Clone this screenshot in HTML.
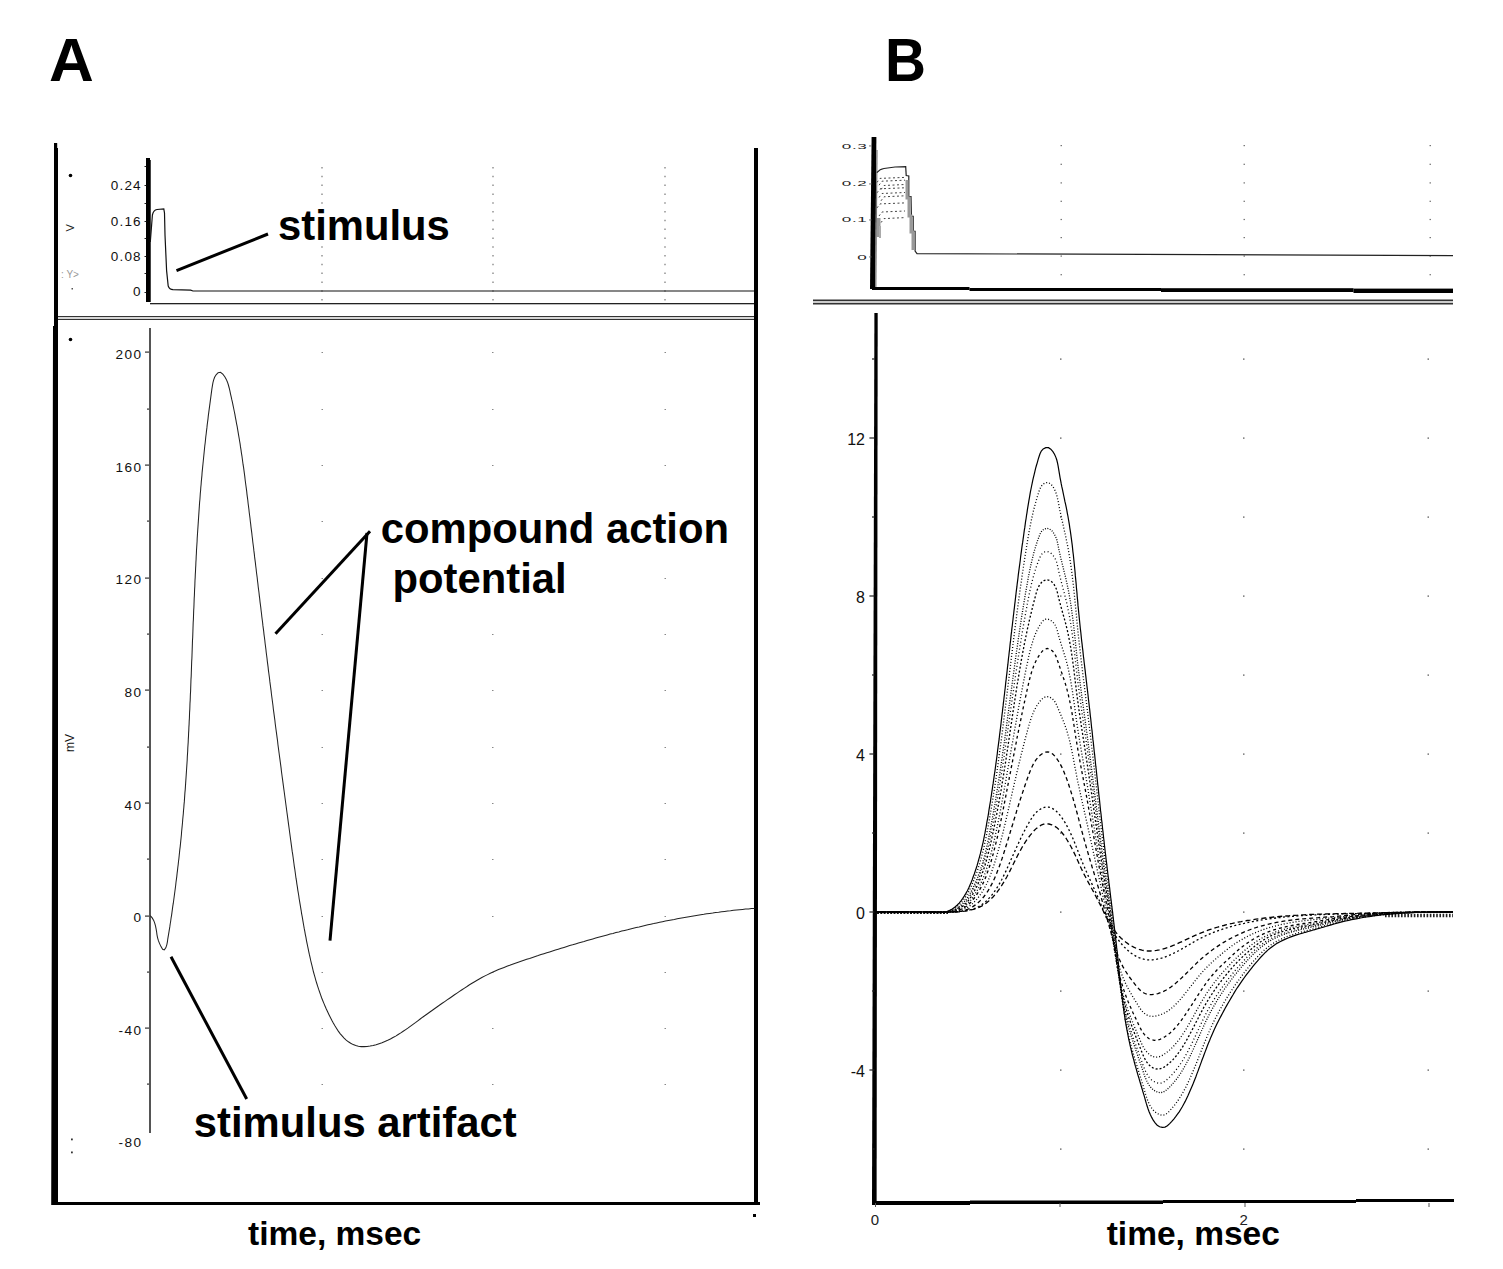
<!DOCTYPE html>
<html><head><meta charset="utf-8"><style>
html,body{margin:0;padding:0;background:#fff;}
body{width:1503px;height:1269px;overflow:hidden;}
svg{display:block;font-family:"Liberation Sans", sans-serif;}
</style></head><body>
<svg width="1503" height="1269" viewBox="0 0 1503 1269">
<rect width="1503" height="1269" fill="#fff"/>
<text x="49" y="80.7" font-size="62" font-weight="bold" fill="#000" >A</text>
<text x="0" y="0" font-size="62" font-weight="bold" transform="translate(885,80.8) scale(0.915,1)">B</text>
<polygon points="54,143 57.2,143 57.2,148 58,148 58,1205 51.2,1205 53,326 54,326" fill="#000"/>
<rect x="754" y="148" width="4" height="1057" fill="#000"/>
<rect x="53" y="1202" width="707" height="3" fill="#000"/>
<rect x="753" y="1214" width="3" height="3" fill="#000"/>
<rect x="146" y="158" width="4" height="144" fill="#000"/>
<rect x="150" y="160" width="1" height="142" fill="#444"/>
<rect x="144.5" y="166" width="1.8" height="1" fill="#222"/>
<rect x="144.5" y="185" width="1.8" height="1" fill="#222"/>
<rect x="144.5" y="203" width="1.8" height="1" fill="#222"/>
<rect x="144.5" y="221" width="1.8" height="1" fill="#222"/>
<rect x="144.5" y="238" width="1.8" height="1" fill="#222"/>
<rect x="144.5" y="256" width="1.8" height="1" fill="#222"/>
<rect x="144.5" y="273" width="1.8" height="1" fill="#222"/>
<rect x="144.5" y="292" width="1.8" height="1" fill="#222"/>
<rect x="150" y="303" width="604" height="1.3" fill="#222"/>
<line x1="322" y1="167" x2="322" y2="301" stroke="#777" stroke-width="1.2" stroke-dasharray="1.5 7.3"/>
<line x1="493" y1="167" x2="493" y2="301" stroke="#777" stroke-width="1.2" stroke-dasharray="1.5 7.3"/>
<line x1="665" y1="167" x2="665" y2="301" stroke="#777" stroke-width="1.2" stroke-dasharray="1.5 7.3"/>
<text x="141.8" y="190.1" font-size="13.5" text-anchor="end" letter-spacing="1.2" fill="#111">0.24</text>
<text x="141.8" y="226.1" font-size="13.5" text-anchor="end" letter-spacing="1.2" fill="#111">0.16</text>
<text x="141.8" y="261.1" font-size="13.5" text-anchor="end" letter-spacing="1.2" fill="#111">0.08</text>
<text x="141.8" y="296.1" font-size="13.5" text-anchor="end" letter-spacing="1.2" fill="#111">0</text>
<path d="M150.3,242 L152.4,215 Q153.5,210 157,209.5 L163.8,208.9 L164.5,213 L165,235 L166.6,270.6 L168.2,286 Q169.5,289.5 173,289.7 L190.7,290.2 L193,291 L754,291" fill="none" stroke="#111" stroke-width="1.2"/>
<rect x="58" y="316" width="696" height="1.2" fill="#333"/>
<rect x="58" y="318.8" width="696" height="1.2" fill="#333"/>
<circle cx="70.5" cy="175.5" r="1.8" fill="#000"/>
<text x="0" y="0" font-size="11" fill="#222" transform="translate(73.5,231.5) rotate(-90)">V</text>
<text x="0" y="0" font-size="10" fill="#999" transform="translate(61,278)">: Y&gt;</text>
<rect x="71.5" y="288" width="1.5" height="1.5" fill="#555"/>
<rect x="149" y="328" width="2" height="805" fill="#555"/>
<rect x="145" y="351.5" width="4" height="1.2" fill="#333"/>
<rect x="147" y="408.5" width="2" height="1.2" fill="#333"/>
<rect x="145" y="464.5" width="4" height="1.2" fill="#333"/>
<rect x="147" y="520.5" width="2" height="1.2" fill="#333"/>
<rect x="145" y="577.5" width="4" height="1.2" fill="#333"/>
<rect x="147" y="633.5" width="2" height="1.2" fill="#333"/>
<rect x="145" y="689.5" width="4" height="1.2" fill="#333"/>
<rect x="147" y="746.5" width="2" height="1.2" fill="#333"/>
<rect x="145" y="802.5" width="4" height="1.2" fill="#333"/>
<rect x="147" y="858.5" width="2" height="1.2" fill="#333"/>
<rect x="145" y="915.5" width="4" height="1.2" fill="#333"/>
<rect x="147" y="971.5" width="2" height="1.2" fill="#333"/>
<rect x="145" y="1027.5" width="4" height="1.2" fill="#333"/>
<rect x="147" y="1083.5" width="2" height="1.2" fill="#333"/>
<text x="142.6" y="359.2" font-size="13.6" text-anchor="end" letter-spacing="1.5" fill="#111">200</text>
<text x="142.6" y="471.8" font-size="13.6" text-anchor="end" letter-spacing="1.5" fill="#111">160</text>
<text x="142.6" y="584.4" font-size="13.6" text-anchor="end" letter-spacing="1.5" fill="#111">120</text>
<text x="142.6" y="697.0" font-size="13.6" text-anchor="end" letter-spacing="1.5" fill="#111">80</text>
<text x="142.6" y="809.6" font-size="13.6" text-anchor="end" letter-spacing="1.5" fill="#111">40</text>
<text x="142.6" y="922.2" font-size="13.6" text-anchor="end" letter-spacing="1.5" fill="#111">0</text>
<text x="142.6" y="1034.8" font-size="13.6" text-anchor="end" letter-spacing="1.5" fill="#111">-40</text>
<text x="142.6" y="1147.4" font-size="13.6" text-anchor="end" letter-spacing="1.5" fill="#111">-80</text>
<rect x="321.5" y="352" width="1.5" height="1" fill="#888"/>
<rect x="321.5" y="409" width="1.5" height="1" fill="#888"/>
<rect x="321.5" y="465" width="1.5" height="1" fill="#888"/>
<rect x="321.5" y="521" width="1.5" height="1" fill="#888"/>
<rect x="321.5" y="578" width="1.5" height="1" fill="#888"/>
<rect x="321.5" y="634" width="1.5" height="1" fill="#888"/>
<rect x="321.5" y="690" width="1.5" height="1" fill="#888"/>
<rect x="321.5" y="747" width="1.5" height="1" fill="#888"/>
<rect x="321.5" y="803" width="1.5" height="1" fill="#888"/>
<rect x="321.5" y="859" width="1.5" height="1" fill="#888"/>
<rect x="321.5" y="916" width="1.5" height="1" fill="#888"/>
<rect x="321.5" y="972" width="1.5" height="1" fill="#888"/>
<rect x="321.5" y="1028" width="1.5" height="1" fill="#888"/>
<rect x="321.5" y="1084" width="1.5" height="1" fill="#888"/>
<rect x="492.0" y="352" width="1.5" height="1" fill="#888"/>
<rect x="492.0" y="409" width="1.5" height="1" fill="#888"/>
<rect x="492.0" y="465" width="1.5" height="1" fill="#888"/>
<rect x="492.0" y="521" width="1.5" height="1" fill="#888"/>
<rect x="492.0" y="578" width="1.5" height="1" fill="#888"/>
<rect x="492.0" y="634" width="1.5" height="1" fill="#888"/>
<rect x="492.0" y="690" width="1.5" height="1" fill="#888"/>
<rect x="492.0" y="747" width="1.5" height="1" fill="#888"/>
<rect x="492.0" y="803" width="1.5" height="1" fill="#888"/>
<rect x="492.0" y="859" width="1.5" height="1" fill="#888"/>
<rect x="492.0" y="916" width="1.5" height="1" fill="#888"/>
<rect x="492.0" y="972" width="1.5" height="1" fill="#888"/>
<rect x="492.0" y="1028" width="1.5" height="1" fill="#888"/>
<rect x="492.0" y="1084" width="1.5" height="1" fill="#888"/>
<rect x="664.5" y="352" width="1.5" height="1" fill="#888"/>
<rect x="664.5" y="409" width="1.5" height="1" fill="#888"/>
<rect x="664.5" y="465" width="1.5" height="1" fill="#888"/>
<rect x="664.5" y="521" width="1.5" height="1" fill="#888"/>
<rect x="664.5" y="578" width="1.5" height="1" fill="#888"/>
<rect x="664.5" y="634" width="1.5" height="1" fill="#888"/>
<rect x="664.5" y="690" width="1.5" height="1" fill="#888"/>
<rect x="664.5" y="747" width="1.5" height="1" fill="#888"/>
<rect x="664.5" y="803" width="1.5" height="1" fill="#888"/>
<rect x="664.5" y="859" width="1.5" height="1" fill="#888"/>
<rect x="664.5" y="916" width="1.5" height="1" fill="#888"/>
<rect x="664.5" y="972" width="1.5" height="1" fill="#888"/>
<rect x="664.5" y="1028" width="1.5" height="1" fill="#888"/>
<rect x="664.5" y="1084" width="1.5" height="1" fill="#888"/>
<circle cx="70.5" cy="339.5" r="1.8" fill="#000"/>
<text x="0" y="0" font-size="12" fill="#111" transform="translate(73.5,752) rotate(-90)">mV</text>
<rect x="71" y="1138.5" width="1.8" height="1.8" fill="#333"/>
<rect x="71" y="1151.5" width="1.8" height="1.8" fill="#333"/>
<path d="M150.2,915.6 L152.2,917.9 L153.7,920.4 L154.7,923.1 L155.5,925.9 L156.1,928.8 L156.6,931.8 L157.0,934.8 L157.6,937.8 L158.4,940.7 L159.6,943.6 L161.0,946.6 L162.6,949.3 L164.3,949.9 L165.8,947.8 L166.8,944.8 L167.4,941.8 L167.8,938.8 L168.3,935.9 L168.8,932.9 L169.3,929.9 L169.8,926.9 L170.2,924.0 L170.7,921.0 L171.1,918.0 L171.6,915.1 L172.0,912.1 L172.4,909.1 L172.8,906.1 L173.3,903.2 L173.7,900.2 L174.1,897.2 L174.5,894.2 L174.9,891.3 L175.3,888.3 L175.7,885.3 L176.0,882.3 L176.4,879.4 L176.8,876.4 L177.1,873.4 L177.5,870.4 L177.8,867.5 L178.2,864.5 L178.5,861.5 L178.9,858.5 L179.2,855.5 L179.5,852.6 L179.8,849.6 L180.2,846.6 L180.5,843.6 L180.8,840.6 L181.1,837.7 L181.4,834.7 L181.6,831.7 L181.9,828.7 L182.2,825.7 L182.5,822.8 L182.7,819.8 L183.0,816.8 L183.3,813.8 L183.5,810.8 L183.8,807.8 L184.0,804.9 L184.3,801.9 L184.5,798.9 L184.7,795.9 L184.9,792.9 L185.2,789.9 L185.4,786.9 L185.6,783.9 L185.8,780.9 L186.0,778.0 L186.2,775.0 L186.4,772.0 L186.6,769.0 L186.8,766.0 L187.0,763.0 L187.2,760.0 L187.3,757.0 L187.5,754.0 L187.7,751.0 L187.8,748.0 L188.0,745.0 L188.2,742.1 L188.3,739.1 L188.5,736.1 L188.6,733.1 L188.8,730.1 L188.9,727.1 L189.1,724.1 L189.2,721.1 L189.4,718.1 L189.5,715.1 L189.6,712.1 L189.8,709.1 L189.9,706.1 L190.0,703.1 L190.2,700.1 L190.3,697.1 L190.4,694.1 L190.6,691.1 L190.7,688.1 L190.8,685.1 L190.9,682.1 L191.0,679.1 L191.2,676.1 L191.3,673.1 L191.4,670.1 L191.5,667.1 L191.6,664.1 L191.7,661.1 L191.9,658.2 L192.0,655.2 L192.1,652.2 L192.2,649.2 L192.3,646.2 L192.4,643.2 L192.5,640.2 L192.7,637.2 L192.8,634.2 L192.9,631.2 L193.0,628.2 L193.1,625.2 L193.2,622.2 L193.4,619.2 L193.5,616.2 L193.6,613.2 L193.7,610.2 L193.9,607.2 L194.0,604.2 L194.1,601.2 L194.2,598.2 L194.4,595.2 L194.5,592.2 L194.6,589.2 L194.8,586.2 L194.9,583.2 L195.0,580.2 L195.2,577.2 L195.3,574.2 L195.5,571.2 L195.6,568.2 L195.8,565.2 L195.9,562.3 L196.1,559.3 L196.2,556.3 L196.4,553.3 L196.5,550.3 L196.7,547.3 L196.9,544.3 L197.1,541.3 L197.2,538.3 L197.4,535.3 L197.6,532.3 L197.8,529.3 L198.0,526.4 L198.2,523.4 L198.4,520.4 L198.6,517.4 L198.8,514.4 L199.0,511.4 L199.2,508.4 L199.4,505.4 L199.6,502.4 L199.9,499.5 L200.1,496.5 L200.3,493.5 L200.6,490.5 L200.8,487.5 L201.1,484.5 L201.3,481.6 L201.6,478.6 L201.9,475.6 L202.1,472.6 L202.4,469.6 L202.7,466.6 L203.0,463.7 L203.3,460.7 L203.6,457.7 L203.9,454.7 L204.2,451.7 L204.5,448.8 L204.8,445.8 L205.2,442.8 L205.5,439.8 L205.8,436.8 L206.2,433.8 L206.5,430.9 L206.9,427.9 L207.2,424.9 L207.6,421.9 L208.0,418.9 L208.3,415.9 L208.7,412.9 L209.1,409.9 L209.5,406.9 L209.9,403.9 L210.3,400.9 L210.7,397.9 L211.1,394.9 L211.5,391.9 L211.9,388.9 L212.4,385.9 L212.9,382.9 L213.6,380.1 L214.6,377.3 L216.1,374.8 L218.1,372.7 L220.5,372.3 L222.8,374.2 L224.8,376.7 L226.3,379.4 L227.5,382.2 L228.4,385.0 L229.2,388.0 L229.9,390.9 L230.5,393.8 L231.2,396.8 L231.8,399.7 L232.5,402.6 L233.1,405.6 L233.7,408.5 L234.3,411.5 L234.9,414.4 L235.4,417.4 L236.0,420.3 L236.5,423.3 L237.1,426.2 L237.6,429.2 L238.1,432.1 L238.6,435.1 L239.1,438.0 L239.6,441.0 L240.1,443.9 L240.5,446.9 L241.0,449.9 L241.4,452.8 L241.9,455.8 L242.3,458.8 L242.7,461.7 L243.1,464.7 L243.6,467.6 L244.0,470.6 L244.4,473.6 L244.8,476.6 L245.1,479.5 L245.5,482.5 L245.9,485.5 L246.3,488.4 L246.7,491.4 L247.0,494.4 L247.4,497.4 L247.8,500.3 L248.1,503.3 L248.5,506.3 L248.9,509.3 L249.2,512.2 L249.6,515.2 L250.0,518.2 L250.3,521.2 L250.7,524.1 L251.0,527.1 L251.4,530.1 L251.8,533.1 L252.1,536.0 L252.5,539.0 L252.8,542.0 L253.2,545.0 L253.6,548.0 L253.9,550.9 L254.3,553.9 L254.6,556.9 L255.0,559.9 L255.4,562.9 L255.7,565.8 L256.1,568.8 L256.4,571.8 L256.8,574.8 L257.2,577.8 L257.5,580.7 L257.9,583.7 L258.2,586.7 L258.6,589.7 L259.0,592.7 L259.3,595.6 L259.7,598.6 L260.0,601.6 L260.4,604.6 L260.8,607.6 L261.1,610.5 L261.5,613.5 L261.8,616.5 L262.2,619.5 L262.6,622.5 L262.9,625.4 L263.3,628.4 L263.7,631.4 L264.0,634.4 L264.4,637.3 L264.8,640.3 L265.1,643.3 L265.5,646.3 L265.9,649.2 L266.2,652.2 L266.6,655.2 L267.0,658.2 L267.3,661.1 L267.7,664.1 L268.1,667.1 L268.4,670.1 L268.8,673.0 L269.2,676.0 L269.6,679.0 L269.9,681.9 L270.3,684.9 L270.7,687.9 L271.1,690.9 L271.4,693.8 L271.8,696.8 L272.2,699.8 L272.6,702.7 L273.0,705.7 L273.3,708.7 L273.7,711.6 L274.1,714.6 L274.5,717.6 L274.9,720.5 L275.2,723.5 L275.6,726.5 L276.0,729.5 L276.4,732.4 L276.8,735.4 L277.2,738.4 L277.6,741.3 L277.9,744.3 L278.3,747.3 L278.7,750.2 L279.1,753.2 L279.5,756.2 L279.9,759.1 L280.3,762.1 L280.7,765.1 L281.1,768.1 L281.4,771.0 L281.8,774.0 L282.2,777.0 L282.6,779.9 L283.0,782.9 L283.4,785.9 L283.8,788.9 L284.2,791.8 L284.6,794.8 L285.0,797.8 L285.4,800.8 L285.8,803.7 L286.2,806.7 L286.6,809.7 L287.0,812.7 L287.4,815.6 L287.8,818.6 L288.2,821.6 L288.6,824.6 L289.0,827.5 L289.4,830.5 L289.8,833.5 L290.2,836.5 L290.6,839.5 L291.0,842.4 L291.4,845.4 L291.8,848.4 L292.2,851.4 L292.7,854.4 L293.1,857.3 L293.5,860.3 L293.9,863.3 L294.3,866.3 L294.8,869.3 L295.2,872.2 L295.6,875.2 L296.0,878.2 L296.5,881.1 L296.9,884.1 L297.4,887.1 L297.8,890.1 L298.3,893.0 L298.8,896.0 L299.2,899.0 L299.7,901.9 L300.2,904.9 L300.7,907.8 L301.2,910.8 L301.6,913.7 L302.2,916.7 L302.7,919.6 L303.2,922.6 L303.7,925.5 L304.2,928.4 L304.8,931.4 L305.3,934.3 L305.9,937.2 L306.4,940.1 L307.0,943.1 L307.6,946.0 L308.2,948.9 L308.8,951.8 L309.4,954.7 L310.1,957.6 L310.7,960.5 L311.4,963.4 L312.1,966.2 L312.8,969.1 L313.5,972.0 L314.3,974.9 L315.1,977.7 L315.9,980.6 L316.8,983.5 L317.7,986.3 L318.6,989.2 L319.6,992.0 L320.6,994.9 L321.6,997.7 L322.7,1000.5 L323.9,1003.4 L325.1,1006.2 L326.3,1009.0 L327.6,1011.8 L329.0,1014.7 L330.4,1017.5 L331.8,1020.3 L333.3,1023.1 L334.9,1025.8 L336.6,1028.5 L338.3,1031.1 L340.1,1033.6 L342.1,1035.9 L344.1,1038.1 L346.2,1040.1 L348.4,1041.8 L350.7,1043.3 L353.2,1044.6 L355.7,1045.6 L358.4,1046.2 L361.2,1046.6 L364.1,1046.6 L367.1,1046.5 L370.1,1046.0 L373.1,1045.4 L376.1,1044.7 L379.1,1043.7 L382.0,1042.7 L384.9,1041.5 L387.7,1040.3 L390.4,1039.0 L393.0,1037.5 L395.7,1036.1 L398.2,1034.5 L400.8,1032.9 L403.2,1031.3 L405.7,1029.6 L408.2,1027.9 L410.6,1026.1 L413.0,1024.3 L415.4,1022.6 L417.8,1020.8 L420.2,1019.0 L422.6,1017.2 L425.0,1015.5 L427.5,1013.7 L429.9,1012.0 L432.4,1010.2 L434.8,1008.5 L437.3,1006.7 L439.7,1005.0 L442.2,1003.3 L444.7,1001.6 L447.1,999.9 L449.6,998.2 L452.1,996.5 L454.5,994.8 L457.0,993.1 L459.5,991.4 L462.0,989.7 L464.5,988.1 L467.0,986.5 L469.5,984.8 L472.0,983.3 L474.6,981.7 L477.1,980.2 L479.7,978.7 L482.3,977.3 L485.0,975.9 L487.6,974.6 L490.3,973.3 L493.0,972.0 L495.8,970.8 L498.5,969.6 L501.3,968.5 L504.1,967.4 L506.9,966.3 L509.7,965.3 L512.5,964.2 L515.3,963.2 L518.2,962.2 L521.0,961.3 L523.9,960.3 L526.7,959.3 L529.6,958.4 L532.5,957.4 L535.3,956.5 L538.2,955.6 L541.0,954.6 L543.9,953.7 L546.8,952.8 L549.6,951.9 L552.5,951.0 L555.4,950.1 L558.2,949.2 L561.1,948.3 L564.0,947.4 L566.9,946.5 L569.7,945.6 L572.6,944.8 L575.5,943.9 L578.4,943.0 L581.2,942.2 L584.1,941.4 L587.0,940.5 L589.9,939.7 L592.8,938.9 L595.7,938.1 L598.5,937.3 L601.4,936.5 L604.3,935.7 L607.2,934.9 L610.1,934.1 L613.0,933.4 L615.9,932.6 L618.8,931.9 L621.7,931.1 L624.6,930.4 L627.5,929.7 L630.4,928.9 L633.3,928.2 L636.2,927.5 L639.1,926.9 L642.1,926.2 L645.0,925.5 L647.9,924.8 L650.8,924.2 L653.7,923.6 L656.7,922.9 L659.6,922.3 L662.5,921.7 L665.4,921.1 L668.4,920.5 L671.3,919.9 L674.3,919.4 L677.2,918.8 L680.1,918.2 L683.1,917.7 L686.0,917.2 L689.0,916.7 L691.9,916.2 L694.9,915.7 L697.8,915.2 L700.8,914.7 L703.8,914.3 L706.7,913.8 L709.7,913.4 L712.7,913.0 L715.6,912.5 L718.6,912.2 L721.6,911.8 L724.6,911.4 L727.6,911.0 L730.5,910.7 L733.5,910.3 L736.5,910.0 L739.5,909.7 L742.5,909.4 L745.5,909.1 L748.5,908.9 L751.5,908.6 L754.5,908.4" fill="none" stroke="#222" stroke-width="1.05"/>
<g stroke="#000" stroke-width="3" stroke-linecap="butt" fill="none">
<line x1="176.5" y1="270.6" x2="268" y2="234"/>
<line x1="275.5" y1="633.8" x2="370" y2="531.3"/>
<line x1="367" y1="533" x2="330" y2="940.6"/>
<line x1="171" y1="956.8" x2="246.7" y2="1099"/>
</g>
<text x="278" y="240" font-size="41.8" font-weight="bold" fill="#000" >stimulus</text>
<text x="380.7" y="543" font-size="41.8" font-weight="bold" fill="#000" >compound action</text>
<text x="392.5" y="593" font-size="41.8" font-weight="bold" fill="#000" >potential</text>
<text x="193.8" y="1136.6" font-size="41.8" font-weight="bold" fill="#000" >stimulus artifact</text>
<text x="248" y="1245" font-size="33.5" font-weight="bold" fill="#000" >time, msec</text>
<polygon points="871.6,137 876.4,137 875.2,289 870,289" fill="#000"/>
<polygon points="876.4,150 877.6,150 876.4,289 875.2,289" fill="#777"/>
<rect x="872" y="287" width="97.5" height="3" fill="#000"/>
<rect x="969.5" y="288" width="191.5" height="3" fill="#000"/>
<rect x="1161" y="288.2" width="192.5" height="3.8" fill="#000"/>
<rect x="1353.5" y="288.6" width="99.5" height="4.4" fill="#000"/>
<text x="0" y="0" font-size="9" text-anchor="end" fill="#222" transform="translate(867.3,148.9) scale(1.9,0.75)" letter-spacing="0.3">0.3</text>
<rect x="869" y="145.5" width="2.5" height="0.9" fill="#666"/>
<text x="0" y="0" font-size="9" text-anchor="end" fill="#222" transform="translate(867.3,186.2) scale(1.9,0.75)" letter-spacing="0.3">0.2</text>
<rect x="869" y="183.5" width="2.5" height="0.9" fill="#666"/>
<text x="0" y="0" font-size="9" text-anchor="end" fill="#222" transform="translate(867.3,222.29999999999998) scale(1.9,0.75)" letter-spacing="0.3">0.1</text>
<rect x="869" y="219.5" width="2.5" height="0.9" fill="#666"/>
<text x="0" y="0" font-size="9" text-anchor="end" fill="#222" transform="translate(867.3,259.6) scale(1.9,0.75)" letter-spacing="0.3">0</text>
<rect x="869" y="256.5" width="2.5" height="0.9" fill="#666"/>
<rect x="1060.5" y="145.0" width="1.5" height="1.2" fill="#777"/>
<rect x="1060.5" y="163.7" width="1.5" height="1.2" fill="#777"/>
<rect x="1060.5" y="182.3" width="1.5" height="1.2" fill="#777"/>
<rect x="1060.5" y="200.7" width="1.5" height="1.2" fill="#777"/>
<rect x="1060.5" y="218.9" width="1.5" height="1.2" fill="#777"/>
<rect x="1060.5" y="237.0" width="1.5" height="1.2" fill="#777"/>
<rect x="1060.5" y="255.5" width="1.5" height="1.2" fill="#777"/>
<rect x="1060.5" y="274.1" width="1.5" height="1.2" fill="#777"/>
<rect x="1243.5" y="145.0" width="1.5" height="1.2" fill="#777"/>
<rect x="1243.5" y="163.7" width="1.5" height="1.2" fill="#777"/>
<rect x="1243.5" y="182.3" width="1.5" height="1.2" fill="#777"/>
<rect x="1243.5" y="200.7" width="1.5" height="1.2" fill="#777"/>
<rect x="1243.5" y="218.9" width="1.5" height="1.2" fill="#777"/>
<rect x="1243.5" y="237.0" width="1.5" height="1.2" fill="#777"/>
<rect x="1243.5" y="255.5" width="1.5" height="1.2" fill="#777"/>
<rect x="1243.5" y="274.1" width="1.5" height="1.2" fill="#777"/>
<rect x="1429.5" y="145.0" width="1.5" height="1.2" fill="#777"/>
<rect x="1429.5" y="163.7" width="1.5" height="1.2" fill="#777"/>
<rect x="1429.5" y="182.3" width="1.5" height="1.2" fill="#777"/>
<rect x="1429.5" y="200.7" width="1.5" height="1.2" fill="#777"/>
<rect x="1429.5" y="218.9" width="1.5" height="1.2" fill="#777"/>
<rect x="1429.5" y="237.0" width="1.5" height="1.2" fill="#777"/>
<rect x="1429.5" y="255.5" width="1.5" height="1.2" fill="#777"/>
<rect x="1429.5" y="274.1" width="1.5" height="1.2" fill="#777"/>
<path d="M876.8,172.7 Q880,169 884,168.5 L895,167 L905.7,166.6 L906.2,175.5 L908.8,176 L908.8,196.4 L911,196.6 L911.4,216 L913.2,216.3 L913.2,231 L915.1,231.3 L915.1,251 L917,253.6 L1453,255.6" fill="none" stroke="#222" stroke-width="1.2"/>
<path d="M877,182.4 L880,178.4 L905,177.4" fill="none" stroke="#444" stroke-width="1" stroke-dasharray="2 2.5"/>
<path d="M879,185.2 L882,181.2 L905,180.2" fill="none" stroke="#444" stroke-width="1" stroke-dasharray="2 2.5"/>
<path d="M881,189.5 L884,185.5 L905,184.5" fill="none" stroke="#444" stroke-width="1" stroke-dasharray="2 2.5"/>
<path d="M877,192.8 L880,188.8 L905,187.8" fill="none" stroke="#444" stroke-width="1" stroke-dasharray="2 2.5"/>
<path d="M879,197.5 L882,193.5 L905,192.5" fill="none" stroke="#444" stroke-width="1" stroke-dasharray="2 2.5"/>
<path d="M881,200.8 L884,196.8 L905,195.8" fill="none" stroke="#444" stroke-width="1" stroke-dasharray="2 2.5"/>
<path d="M877,207.9 L880,203.9 L905,202.9" fill="none" stroke="#444" stroke-width="1" stroke-dasharray="2 2.5"/>
<path d="M879,216 L882,212 L905,211" fill="none" stroke="#444" stroke-width="1" stroke-dasharray="2 2.5"/>
<path d="M881,222.6 L884,218.6 L905,217.6" fill="none" stroke="#444" stroke-width="1" stroke-dasharray="2 2.5"/>
<path d="M907,180 L907,198 L909,198 L909,216 L911,216 L911,232 L913,232 L913,250" fill="none" stroke="#999" stroke-width="3"/>
<rect x="877" y="218" width="3.5" height="19" fill="#999"/>
<rect x="879" y="226" width="2" height="12" fill="#aaa"/>
<rect x="813" y="299.5" width="640" height="1.5" fill="#333"/>
<rect x="813" y="301" width="640" height="2" fill="#ccc"/>
<rect x="813" y="303" width="640" height="1.5" fill="#333"/>
<polygon points="874.4,313 877.7,313 876.6,1204.5 872,1204.5" fill="#000"/>
<rect x="872" y="1201" width="98" height="4" fill="#000"/>
<rect x="970" y="1200.5" width="193" height="3.5" fill="#000"/>
<rect x="1163" y="1200" width="193" height="3" fill="#000"/>
<rect x="1356" y="1199" width="98" height="3" fill="#000"/>
<rect x="872" y="1148.4" width="2.5" height="1.2" fill="#222"/>
<rect x="869.4" y="1069.4" width="5" height="1.2" fill="#222"/>
<rect x="872" y="990.4" width="2.5" height="1.2" fill="#222"/>
<rect x="869.4" y="911.4" width="5" height="1.2" fill="#222"/>
<rect x="872" y="832.4" width="2.5" height="1.2" fill="#222"/>
<rect x="869.4" y="753.4" width="5" height="1.2" fill="#222"/>
<rect x="872" y="674.4" width="2.5" height="1.2" fill="#222"/>
<rect x="869.4" y="595.4" width="5" height="1.2" fill="#222"/>
<rect x="872" y="516.4" width="2.5" height="1.2" fill="#222"/>
<rect x="869.4" y="437.4" width="5" height="1.2" fill="#222"/>
<rect x="872" y="358.4" width="2.5" height="1.2" fill="#222"/>
<text x="865" y="444.8" font-size="16" text-anchor="end" fill="#111">12</text>
<text x="865" y="602.8" font-size="16" text-anchor="end" fill="#111">8</text>
<text x="865" y="760.8" font-size="16" text-anchor="end" fill="#111">4</text>
<text x="865" y="918.8" font-size="16" text-anchor="end" fill="#111">0</text>
<text x="865" y="1076.8" font-size="16" text-anchor="end" fill="#111">-4</text>
<rect x="1060.0" y="1148.5" width="1.5" height="1.2" fill="#555"/>
<rect x="1060.0" y="1069.5" width="1.5" height="1.2" fill="#555"/>
<rect x="1060.0" y="990.5" width="1.5" height="1.2" fill="#555"/>
<rect x="1060.0" y="911.5" width="1.5" height="1.2" fill="#555"/>
<rect x="1060.0" y="832.5" width="1.5" height="1.2" fill="#555"/>
<rect x="1060.0" y="753.5" width="1.5" height="1.2" fill="#555"/>
<rect x="1060.0" y="674.5" width="1.5" height="1.2" fill="#555"/>
<rect x="1060.0" y="595.5" width="1.5" height="1.2" fill="#555"/>
<rect x="1060.0" y="516.5" width="1.5" height="1.2" fill="#555"/>
<rect x="1060.0" y="437.5" width="1.5" height="1.2" fill="#555"/>
<rect x="1060.0" y="358.5" width="1.5" height="1.2" fill="#555"/>
<rect x="1243.0" y="1148.5" width="1.5" height="1.2" fill="#555"/>
<rect x="1243.0" y="1069.5" width="1.5" height="1.2" fill="#555"/>
<rect x="1243.0" y="990.5" width="1.5" height="1.2" fill="#555"/>
<rect x="1243.0" y="911.5" width="1.5" height="1.2" fill="#555"/>
<rect x="1243.0" y="832.5" width="1.5" height="1.2" fill="#555"/>
<rect x="1243.0" y="753.5" width="1.5" height="1.2" fill="#555"/>
<rect x="1243.0" y="674.5" width="1.5" height="1.2" fill="#555"/>
<rect x="1243.0" y="595.5" width="1.5" height="1.2" fill="#555"/>
<rect x="1243.0" y="516.5" width="1.5" height="1.2" fill="#555"/>
<rect x="1243.0" y="437.5" width="1.5" height="1.2" fill="#555"/>
<rect x="1243.0" y="358.5" width="1.5" height="1.2" fill="#555"/>
<rect x="1427.5" y="1148.5" width="1.5" height="1.2" fill="#555"/>
<rect x="1427.5" y="1069.5" width="1.5" height="1.2" fill="#555"/>
<rect x="1427.5" y="990.5" width="1.5" height="1.2" fill="#555"/>
<rect x="1427.5" y="911.5" width="1.5" height="1.2" fill="#555"/>
<rect x="1427.5" y="832.5" width="1.5" height="1.2" fill="#555"/>
<rect x="1427.5" y="753.5" width="1.5" height="1.2" fill="#555"/>
<rect x="1427.5" y="674.5" width="1.5" height="1.2" fill="#555"/>
<rect x="1427.5" y="595.5" width="1.5" height="1.2" fill="#555"/>
<rect x="1427.5" y="516.5" width="1.5" height="1.2" fill="#555"/>
<rect x="1427.5" y="437.5" width="1.5" height="1.2" fill="#555"/>
<rect x="1427.5" y="358.5" width="1.5" height="1.2" fill="#555"/>
<rect x="875.0" y="1203" width="1" height="4" fill="#555"/>
<rect x="1059.5" y="1203" width="1" height="4" fill="#555"/>
<rect x="1244.5" y="1203" width="1" height="4" fill="#555"/>
<rect x="1428.5" y="1203" width="1" height="4" fill="#555"/>
<line x1="877" y1="912.4" x2="948" y2="912.4" stroke="#111" stroke-width="3" stroke-dasharray="2 1.3"/>
<line x1="1385" y1="915.5" x2="1453" y2="915.5" stroke="#222" stroke-width="3.5" stroke-dasharray="1.6 1.6"/>
<text x="870.8" y="1225" font-size="15" font-weight="normal" fill="#222" >0</text>
<text x="1239.5" y="1225" font-size="15" font-weight="normal" fill="#222" >2</text>
<text x="1106.7" y="1245" font-size="33.5" font-weight="bold" fill="#000" >time, msec</text>
<path d="M875.0,912.0 L878.0,912.0 L881.0,912.0 L884.0,912.0 L887.0,912.0 L890.0,912.0 L893.0,912.0 L896.0,912.0 L899.0,912.0 L902.0,912.0 L905.0,912.0 L908.0,912.0 L911.0,912.0 L914.0,912.0 L917.0,912.0 L920.0,912.0 L922.9,911.9 L925.9,911.9 L928.9,911.9 L931.9,911.9 L934.9,912.0 L938.0,912.2 L941.1,912.3 L944.1,912.2 L946.9,911.5 L949.7,910.4 L952.3,909.0 L954.7,907.2 L957.0,905.2 L959.1,903.1 L961.0,900.8 L962.8,898.4 L964.4,895.9 L965.9,893.4 L967.4,890.7 L968.7,888.0 L969.9,885.3 L971.1,882.5 L972.2,879.7 L973.2,876.8 L974.3,874.0 L975.2,871.2 L976.2,868.3 L977.1,865.5 L977.9,862.6 L978.7,859.7 L979.5,856.8 L980.3,853.9 L981.0,851.0 L981.7,848.1 L982.4,845.2 L983.1,842.3 L983.7,839.3 L984.3,836.4 L984.9,833.5 L985.4,830.5 L986.0,827.6 L986.5,824.6 L987.0,821.7 L987.6,818.7 L988.1,815.8 L988.6,812.8 L989.0,809.9 L989.5,806.9 L990.0,803.9 L990.5,801.0 L990.9,798.0 L991.4,795.1 L991.8,792.1 L992.3,789.1 L992.7,786.2 L993.2,783.2 L993.6,780.2 L994.0,777.3 L994.4,774.3 L994.9,771.3 L995.3,768.4 L995.7,765.4 L996.1,762.4 L996.5,759.5 L996.9,756.5 L997.3,753.5 L997.6,750.5 L998.0,747.6 L998.4,744.6 L998.8,741.6 L999.2,738.7 L999.5,735.7 L999.9,732.7 L1000.3,729.7 L1000.6,726.8 L1001.0,723.8 L1001.3,720.8 L1001.7,717.8 L1002.0,714.9 L1002.4,711.9 L1002.7,708.9 L1003.1,705.9 L1003.4,702.9 L1003.8,700.0 L1004.1,697.0 L1004.5,694.0 L1004.8,691.0 L1005.2,688.0 L1005.5,685.1 L1005.8,682.1 L1006.2,679.1 L1006.5,676.1 L1006.9,673.1 L1007.2,670.2 L1007.5,667.2 L1007.9,664.2 L1008.2,661.2 L1008.5,658.2 L1008.9,655.3 L1009.2,652.3 L1009.6,649.3 L1009.9,646.3 L1010.2,643.3 L1010.6,640.4 L1010.9,637.4 L1011.2,634.4 L1011.6,631.4 L1011.9,628.4 L1012.3,625.5 L1012.6,622.5 L1013.0,619.5 L1013.3,616.5 L1013.7,613.5 L1014.0,610.6 L1014.4,607.6 L1014.7,604.6 L1015.1,601.6 L1015.4,598.7 L1015.8,595.7 L1016.1,592.7 L1016.5,589.7 L1016.9,586.7 L1017.2,583.8 L1017.6,580.8 L1018.0,577.8 L1018.3,574.9 L1018.7,571.9 L1019.1,568.9 L1019.5,565.9 L1019.9,563.0 L1020.3,560.0 L1020.6,557.0 L1021.0,554.1 L1021.4,551.1 L1021.8,548.1 L1022.2,545.2 L1022.7,542.2 L1023.1,539.2 L1023.5,536.3 L1023.9,533.3 L1024.3,530.3 L1024.8,527.4 L1025.2,524.4 L1025.6,521.4 L1026.1,518.5 L1026.5,515.5 L1027.0,512.6 L1027.4,509.6 L1027.9,506.7 L1028.4,503.7 L1028.9,500.7 L1029.4,497.8 L1029.9,494.8 L1030.4,491.9 L1031.0,489.0 L1031.6,486.0 L1032.2,483.1 L1032.8,480.1 L1033.5,477.2 L1034.2,474.3 L1034.9,471.3 L1035.6,468.4 L1036.4,465.5 L1037.3,462.6 L1038.1,459.6 L1039.0,456.7 L1040.0,453.8 L1041.3,451.1 L1043.2,448.9 L1045.8,447.6 L1048.5,447.7 L1050.8,449.2 L1052.9,451.6 L1054.5,454.3 L1055.8,457.1 L1056.8,460.0 L1057.5,462.9 L1058.1,465.9 L1058.6,468.9 L1059.1,471.9 L1059.6,474.9 L1060.1,477.8 L1060.7,480.8 L1061.2,483.7 L1061.8,486.7 L1062.5,489.6 L1063.1,492.6 L1063.7,495.5 L1064.3,498.4 L1064.9,501.4 L1065.6,504.3 L1066.2,507.2 L1066.8,510.1 L1067.3,513.1 L1067.9,516.0 L1068.4,519.0 L1068.9,521.9 L1069.4,524.9 L1069.8,527.8 L1070.3,530.8 L1070.7,533.7 L1071.1,536.7 L1071.5,539.7 L1071.9,542.6 L1072.3,545.6 L1072.6,548.6 L1072.9,551.6 L1073.3,554.5 L1073.6,557.5 L1073.9,560.5 L1074.2,563.5 L1074.5,566.5 L1074.8,569.5 L1075.1,572.5 L1075.3,575.4 L1075.6,578.4 L1075.9,581.4 L1076.2,584.4 L1076.4,587.4 L1076.7,590.4 L1077.0,593.4 L1077.2,596.4 L1077.5,599.4 L1077.8,602.4 L1078.0,605.4 L1078.3,608.3 L1078.6,611.3 L1078.9,614.3 L1079.2,617.3 L1079.5,620.3 L1079.8,623.3 L1080.1,626.2 L1080.4,629.2 L1080.8,632.2 L1081.1,635.2 L1081.4,638.2 L1081.7,641.1 L1082.1,644.1 L1082.4,647.1 L1082.8,650.1 L1083.1,653.1 L1083.4,656.0 L1083.8,659.0 L1084.1,662.0 L1084.5,665.0 L1084.8,667.9 L1085.2,670.9 L1085.5,673.9 L1085.9,676.9 L1086.2,679.8 L1086.6,682.8 L1086.9,685.8 L1087.3,688.8 L1087.6,691.7 L1088.0,694.7 L1088.3,697.7 L1088.6,700.7 L1089.0,703.6 L1089.3,706.6 L1089.7,709.6 L1090.0,712.6 L1090.3,715.6 L1090.7,718.5 L1091.0,721.5 L1091.3,724.5 L1091.6,727.5 L1092.0,730.4 L1092.3,733.4 L1092.6,736.4 L1092.9,739.4 L1093.3,742.4 L1093.6,745.4 L1093.9,748.3 L1094.2,751.3 L1094.6,754.3 L1094.9,757.3 L1095.2,760.3 L1095.5,763.2 L1095.8,766.2 L1096.2,769.2 L1096.5,772.2 L1096.8,775.2 L1097.1,778.1 L1097.4,781.1 L1097.7,784.1 L1098.1,787.1 L1098.4,790.1 L1098.7,793.1 L1099.0,796.0 L1099.4,799.0 L1099.7,802.0 L1100.0,805.0 L1100.3,808.0 L1100.6,810.9 L1101.0,813.9 L1101.3,816.9 L1101.6,819.9 L1102.0,822.9 L1102.3,825.8 L1102.6,828.8 L1103.0,831.8 L1103.3,834.8 L1103.6,837.8 L1104.0,840.7 L1104.3,843.7 L1104.6,846.7 L1105.0,849.7 L1105.3,852.6 L1105.7,855.6 L1106.0,858.6 L1106.4,861.6 L1106.8,864.6 L1107.1,867.5 L1107.5,870.5 L1107.8,873.5 L1108.2,876.5 L1108.6,879.4 L1108.9,882.4 L1109.3,885.4 L1109.7,888.3 L1110.0,891.3 L1110.4,894.3 L1110.7,897.3 L1111.1,900.2 L1111.5,903.2 L1111.8,906.2 L1112.2,909.2 L1112.6,912.1 L1112.9,915.1 L1113.3,918.1 L1113.6,921.1 L1114.0,924.0 L1114.3,927.0 L1114.7,930.0 L1115.0,933.0 L1115.4,936.0 L1115.7,938.9 L1116.1,941.9 L1116.4,944.9 L1116.7,947.9 L1117.1,950.8 L1117.4,953.8 L1117.7,956.8 L1118.0,959.8 L1118.3,962.8 L1118.6,965.8 L1118.9,968.7 L1119.2,971.7 L1119.5,974.7 L1119.8,977.7 L1120.2,980.7 L1120.5,983.7 L1120.8,986.6 L1121.1,989.6 L1121.5,992.6 L1121.8,995.6 L1122.2,998.5 L1122.6,1001.5 L1123.0,1004.5 L1123.4,1007.5 L1123.8,1010.4 L1124.2,1013.4 L1124.7,1016.3 L1125.1,1019.3 L1125.6,1022.3 L1126.1,1025.2 L1126.6,1028.2 L1127.2,1031.1 L1127.8,1034.1 L1128.3,1037.0 L1128.9,1039.9 L1129.6,1042.9 L1130.2,1045.8 L1130.9,1048.7 L1131.6,1051.6 L1132.3,1054.6 L1133.1,1057.5 L1133.9,1060.4 L1134.6,1063.3 L1135.4,1066.2 L1136.3,1069.1 L1137.1,1072.0 L1137.9,1074.9 L1138.8,1077.7 L1139.6,1080.6 L1140.5,1083.5 L1141.3,1086.3 L1142.2,1089.2 L1143.0,1092.0 L1143.9,1094.9 L1144.7,1097.7 L1145.5,1100.6 L1146.3,1103.4 L1147.2,1106.2 L1148.1,1109.0 L1149.1,1111.8 L1150.3,1114.6 L1151.7,1117.4 L1153.2,1120.2 L1155.1,1122.9 L1157.2,1125.2 L1159.6,1126.8 L1162.3,1127.4 L1165.0,1127.1 L1167.4,1125.8 L1169.7,1123.7 L1171.8,1121.4 L1173.8,1119.1 L1175.7,1116.7 L1177.5,1114.2 L1179.2,1111.8 L1180.8,1109.2 L1182.3,1106.7 L1183.8,1104.0 L1185.2,1101.4 L1186.5,1098.7 L1187.8,1096.0 L1189.0,1093.3 L1190.2,1090.6 L1191.4,1087.8 L1192.6,1085.1 L1193.7,1082.3 L1194.8,1079.5 L1195.9,1076.7 L1196.9,1073.9 L1198.0,1071.1 L1199.0,1068.3 L1200.1,1065.4 L1201.1,1062.6 L1202.1,1059.8 L1203.2,1057.0 L1204.2,1054.2 L1205.3,1051.4 L1206.4,1048.5 L1207.4,1045.7 L1208.5,1043.0 L1209.7,1040.2 L1210.8,1037.4 L1212.0,1034.7 L1213.2,1031.9 L1214.4,1029.2 L1215.7,1026.5 L1217.0,1023.8 L1218.3,1021.2 L1219.7,1018.5 L1221.1,1015.9 L1222.5,1013.2 L1223.9,1010.6 L1225.3,1008.0 L1226.8,1005.4 L1228.3,1002.8 L1229.8,1000.2 L1231.3,997.6 L1232.9,995.0 L1234.4,992.4 L1236.0,989.8 L1237.6,987.3 L1239.3,984.8 L1241.0,982.3 L1242.7,979.9 L1244.4,977.5 L1246.1,975.1 L1247.9,972.8 L1249.8,970.4 L1251.6,968.1 L1253.5,965.7 L1255.4,963.4 L1257.4,961.1 L1259.3,958.8 L1261.4,956.5 L1263.5,954.3 L1265.6,952.2 L1267.8,950.1 L1270.1,948.2 L1272.5,946.4 L1274.9,944.7 L1277.4,943.1 L1280.0,941.7 L1282.7,940.4 L1285.4,939.1 L1288.1,938.0 L1290.9,936.9 L1293.7,935.9 L1296.6,934.9 L1299.5,934.0 L1302.4,933.2 L1305.3,932.3 L1308.2,931.5 L1311.1,930.7 L1314.0,929.8 L1316.9,929.0 L1319.8,928.2 L1322.6,927.3 L1325.5,926.5 L1328.4,925.6 L1331.2,924.8 L1334.1,924.0 L1337.0,923.2 L1339.9,922.4 L1342.8,921.7 L1345.7,921.0 L1348.6,920.4 L1351.5,919.7 L1354.5,919.1 L1357.4,918.6 L1360.4,918.0 L1363.3,917.5 L1366.3,917.0 L1369.3,916.6 L1372.3,916.1 L1375.2,915.7 L1378.2,915.3 L1381.2,915.0 L1384.2,914.7 L1387.1,914.4 L1390.1,914.1 L1393.1,913.8 L1396.1,913.6 L1399.1,913.3 L1402.1,913.1 L1405.1,913.0 L1408.1,912.8 L1411.0,912.7 L1414.0,912.5 L1417.0,912.4 L1420.0,912.3 L1423.0,912.2 L1426.0,912.2 L1429.0,912.1 L1432.0,912.0 L1435.0,912.0 L1438.0,912.0 L1441.0,912.0 L1444.0,912.0 L1447.0,912.0 L1450.0,912.0 L1453.0,912.0" fill="none" stroke="#000" stroke-width="1.2"/>
<path d="M875.0,912.0 L878.0,912.0 L881.0,912.0 L884.0,912.0 L887.0,912.0 L890.0,912.0 L893.0,912.0 L896.0,912.0 L899.0,912.0 L902.0,912.0 L905.0,912.0 L908.0,912.0 L911.0,912.0 L914.0,912.0 L917.0,912.0 L919.9,912.0 L922.9,911.9 L925.9,911.9 L928.9,911.9 L931.9,911.9 L934.9,911.9 L937.9,912.1 L941.0,912.3 L944.0,912.3 L946.9,911.9 L949.8,911.0 L952.5,909.8 L955.0,908.2 L957.4,906.3 L959.6,904.3 L961.7,902.1 L963.5,899.8 L965.3,897.4 L966.8,894.9 L968.3,892.3 L969.7,889.6 L971.0,886.9 L972.2,884.1 L973.4,881.3 L974.5,878.5 L975.6,875.7 L976.6,872.9 L977.6,870.1 L978.5,867.2 L979.4,864.4 L980.2,861.5 L981.0,858.6 L981.8,855.7 L982.6,852.8 L983.3,849.9 L984.0,847.0 L984.6,844.1 L985.2,841.2 L985.9,838.2 L986.5,835.3 L987.0,832.4 L987.6,829.4 L988.1,826.5 L988.7,823.5 L989.2,820.6 L989.7,817.6 L990.2,814.7 L990.7,811.7 L991.2,808.8 L991.7,805.8 L992.2,802.9 L992.7,799.9 L993.2,796.9 L993.6,794.0 L994.1,791.0 L994.6,788.1 L995.0,785.1 L995.5,782.1 L995.9,779.2 L996.3,776.2 L996.8,773.2 L997.2,770.3 L997.6,767.3 L998.0,764.3 L998.4,761.4 L998.8,758.4 L999.2,755.4 L999.6,752.5 L1000.0,749.5 L1000.4,746.5 L1000.8,743.6 L1001.2,740.6 L1001.6,737.6 L1002.0,734.7 L1002.4,731.7 L1002.7,728.7 L1003.1,725.7 L1003.5,722.8 L1003.8,719.8 L1004.2,716.8 L1004.6,713.8 L1005.0,710.9 L1005.3,707.9 L1005.7,704.9 L1006.0,701.9 L1006.4,699.0 L1006.8,696.0 L1007.1,693.0 L1007.5,690.0 L1007.8,687.1 L1008.2,684.1 L1008.6,681.1 L1008.9,678.1 L1009.3,675.2 L1009.6,672.2 L1010.0,669.2 L1010.4,666.2 L1010.7,663.3 L1011.1,660.3 L1011.4,657.3 L1011.8,654.3 L1012.2,651.4 L1012.5,648.4 L1012.9,645.4 L1013.3,642.5 L1013.6,639.5 L1014.0,636.5 L1014.4,633.5 L1014.7,630.6 L1015.1,627.6 L1015.5,624.6 L1015.9,621.6 L1016.3,618.7 L1016.6,615.7 L1017.0,612.7 L1017.4,609.8 L1017.8,606.8 L1018.2,603.8 L1018.6,600.9 L1019.0,597.9 L1019.4,594.9 L1019.8,591.9 L1020.2,589.0 L1020.6,586.0 L1021.1,583.1 L1021.5,580.1 L1021.9,577.1 L1022.3,574.2 L1022.8,571.2 L1023.2,568.2 L1023.7,565.3 L1024.1,562.3 L1024.6,559.3 L1025.0,556.4 L1025.5,553.4 L1026.0,550.5 L1026.4,547.5 L1026.9,544.6 L1027.4,541.6 L1027.9,538.7 L1028.4,535.7 L1028.9,532.8 L1029.5,529.8 L1030.0,526.9 L1030.6,523.9 L1031.2,521.0 L1031.8,518.1 L1032.5,515.1 L1033.1,512.2 L1033.8,509.3 L1034.6,506.4 L1035.4,503.5 L1036.2,500.6 L1037.0,497.7 L1037.9,494.8 L1038.8,491.9 L1039.8,489.1 L1041.1,486.4 L1043.0,484.1 L1045.7,482.6 L1048.5,482.6 L1050.9,484.1 L1052.9,486.6 L1054.5,489.3 L1055.7,492.1 L1056.7,495.0 L1057.4,497.9 L1058.1,500.8 L1058.6,503.8 L1059.2,506.7 L1059.7,509.7 L1060.4,512.6 L1061.0,515.6 L1061.6,518.5 L1062.3,521.4 L1063.0,524.3 L1063.6,527.3 L1064.3,530.2 L1064.9,533.1 L1065.6,536.0 L1066.2,539.0 L1066.8,541.9 L1067.4,544.8 L1068.0,547.8 L1068.5,550.7 L1069.0,553.7 L1069.5,556.6 L1070.0,559.6 L1070.4,562.5 L1070.9,565.5 L1071.3,568.4 L1071.7,571.4 L1072.1,574.4 L1072.4,577.3 L1072.8,580.3 L1073.1,583.3 L1073.5,586.3 L1073.8,589.3 L1074.1,592.2 L1074.4,595.2 L1074.7,598.2 L1075.0,601.2 L1075.3,604.2 L1075.6,607.2 L1075.9,610.1 L1076.2,613.1 L1076.5,616.1 L1076.7,619.1 L1077.0,622.1 L1077.3,625.1 L1077.6,628.1 L1077.9,631.0 L1078.2,634.0 L1078.5,637.0 L1078.9,640.0 L1079.2,643.0 L1079.5,645.9 L1079.9,648.9 L1080.2,651.9 L1080.5,654.9 L1080.9,657.8 L1081.2,660.8 L1081.6,663.8 L1082.0,666.8 L1082.3,669.7 L1082.7,672.7 L1083.0,675.7 L1083.4,678.7 L1083.8,681.6 L1084.2,684.6 L1084.5,687.6 L1084.9,690.6 L1085.3,693.5 L1085.6,696.5 L1086.0,699.5 L1086.4,702.4 L1086.8,705.4 L1087.1,708.4 L1087.5,711.4 L1087.9,714.3 L1088.2,717.3 L1088.6,720.3 L1088.9,723.2 L1089.3,726.2 L1089.7,729.2 L1090.0,732.2 L1090.4,735.1 L1090.7,738.1 L1091.1,741.1 L1091.4,744.1 L1091.8,747.0 L1092.1,750.0 L1092.5,753.0 L1092.8,756.0 L1093.1,758.9 L1093.5,761.9 L1093.8,764.9 L1094.2,767.9 L1094.5,770.8 L1094.9,773.8 L1095.2,776.8 L1095.5,779.8 L1095.9,782.7 L1096.2,785.7 L1096.6,788.7 L1096.9,791.7 L1097.2,794.6 L1097.6,797.6 L1097.9,800.6 L1098.3,803.6 L1098.6,806.6 L1099.0,809.5 L1099.3,812.5 L1099.6,815.5 L1100.0,818.5 L1100.3,821.4 L1100.7,824.4 L1101.0,827.4 L1101.4,830.4 L1101.7,833.3 L1102.1,836.3 L1102.5,839.3 L1102.8,842.3 L1103.2,845.2 L1103.5,848.2 L1103.9,851.2 L1104.3,854.2 L1104.6,857.1 L1105.0,860.1 L1105.4,863.1 L1105.8,866.1 L1106.1,869.0 L1106.5,872.0 L1106.9,875.0 L1107.3,878.0 L1107.7,880.9 L1108.1,883.9 L1108.5,886.9 L1108.9,889.9 L1109.2,892.8 L1109.6,895.8 L1110.0,898.8 L1110.4,901.7 L1110.8,904.7 L1111.2,907.7 L1111.6,910.7 L1111.9,913.6 L1112.3,916.6 L1112.7,919.6 L1113.1,922.5 L1113.4,925.5 L1113.8,928.5 L1114.2,931.4 L1114.5,934.4 L1114.9,937.4 L1115.3,940.4 L1115.6,943.3 L1115.9,946.3 L1116.3,949.3 L1116.6,952.2 L1117.0,955.2 L1117.3,958.2 L1117.6,961.1 L1117.9,964.1 L1118.2,967.1 L1118.5,970.0 L1118.9,973.0 L1119.2,976.0 L1119.5,979.0 L1119.9,981.9 L1120.2,984.9 L1120.6,987.9 L1121.0,990.9 L1121.3,993.9 L1121.7,996.9 L1122.2,999.9 L1122.6,1002.9 L1123.0,1005.9 L1123.5,1008.8 L1124.0,1011.8 L1124.5,1014.8 L1125.0,1017.8 L1125.5,1020.7 L1126.1,1023.7 L1126.7,1026.6 L1127.3,1029.5 L1127.9,1032.5 L1128.5,1035.4 L1129.2,1038.3 L1129.9,1041.1 L1130.7,1044.0 L1131.4,1046.9 L1132.2,1049.7 L1133.0,1052.5 L1133.8,1055.4 L1134.7,1058.2 L1135.5,1061.1 L1136.4,1063.9 L1137.2,1066.7 L1138.1,1069.6 L1139.0,1072.5 L1139.9,1075.3 L1140.8,1078.2 L1141.7,1081.1 L1142.6,1084.1 L1143.5,1087.0 L1144.3,1090.0 L1145.2,1093.0 L1146.1,1096.0 L1147.1,1098.9 L1148.2,1101.8 L1149.4,1104.5 L1150.9,1107.1 L1152.6,1109.4 L1154.5,1111.5 L1156.8,1113.2 L1159.4,1114.6 L1162.1,1115.3 L1164.8,1114.9 L1167.2,1113.3 L1169.5,1111.1 L1171.6,1108.7 L1173.6,1106.3 L1175.5,1103.9 L1177.3,1101.5 L1179.0,1099.0 L1180.6,1096.4 L1182.1,1093.9 L1183.6,1091.3 L1185.0,1088.7 L1186.4,1086.0 L1187.7,1083.4 L1188.9,1080.7 L1190.2,1078.0 L1191.4,1075.2 L1192.5,1072.5 L1193.7,1069.8 L1194.8,1067.0 L1196.0,1064.2 L1197.1,1061.4 L1198.2,1058.7 L1199.3,1055.9 L1200.4,1053.1 L1201.5,1050.3 L1202.6,1047.5 L1203.7,1044.7 L1204.8,1041.9 L1206.0,1039.2 L1207.1,1036.4 L1208.3,1033.6 L1209.5,1030.9 L1210.7,1028.1 L1211.9,1025.4 L1213.2,1022.7 L1214.5,1020.0 L1215.9,1017.3 L1217.3,1014.7 L1218.7,1012.0 L1220.1,1009.4 L1221.6,1006.8 L1223.1,1004.2 L1224.6,1001.6 L1226.1,999.0 L1227.7,996.5 L1229.3,994.0 L1230.9,991.4 L1232.6,989.0 L1234.2,986.5 L1235.9,984.0 L1237.6,981.6 L1239.4,979.2 L1241.1,976.8 L1242.9,974.4 L1244.7,972.0 L1246.5,969.7 L1248.4,967.4 L1250.3,965.0 L1252.2,962.7 L1254.2,960.4 L1256.2,958.2 L1258.3,955.9 L1260.4,953.8 L1262.6,951.7 L1264.8,949.6 L1267.1,947.7 L1269.5,945.9 L1271.9,944.2 L1274.4,942.6 L1277.0,941.2 L1279.6,939.8 L1282.3,938.6 L1285.1,937.4 L1287.8,936.3 L1290.7,935.3 L1293.5,934.4 L1296.4,933.5 L1299.3,932.6 L1302.2,931.8 L1305.1,931.0 L1308.0,930.2 L1310.9,929.5 L1313.8,928.7 L1316.7,927.9 L1319.6,927.1 L1322.5,926.3 L1325.4,925.5 L1328.3,924.7 L1331.2,923.9 L1334.0,923.2 L1336.9,922.5 L1339.8,921.8 L1342.7,921.1 L1345.7,920.4 L1348.6,919.8 L1351.5,919.2 L1354.5,918.7 L1357.4,918.1 L1360.4,917.6 L1363.4,917.2 L1366.3,916.7 L1369.3,916.3 L1372.3,915.9 L1375.3,915.5 L1378.2,915.1 L1381.2,914.8 L1384.2,914.5 L1387.2,914.2 L1390.2,913.9 L1393.1,913.7 L1396.1,913.5 L1399.1,913.3 L1402.1,913.1 L1405.1,912.9 L1408.1,912.7 L1411.1,912.6 L1414.1,912.5 L1417.1,912.4 L1420.0,912.3 L1423.0,912.2 L1426.0,912.1 L1429.0,912.1 L1432.0,912.0 L1435.0,912.0 L1438.0,912.0 L1441.0,912.0 L1444.0,912.0 L1447.0,912.0 L1450.0,912.0 L1453.0,912.0" fill="none" stroke="#000" stroke-width="1.3" stroke-dasharray="1 2"/>
<path d="M875.0,912.0 L878.0,912.0 L880.9,912.0 L883.9,912.0 L886.9,912.0 L889.9,912.0 L892.9,912.0 L895.9,912.0 L899.0,912.0 L902.0,912.0 L905.0,912.0 L908.0,912.0 L911.0,912.0 L914.0,912.0 L917.0,912.0 L920.0,912.0 L922.9,912.0 L925.8,912.0 L928.8,912.1 L931.7,912.1 L934.7,912.1 L937.8,912.2 L940.9,912.2 L944.1,912.2 L947.2,911.9 L950.1,911.3 L952.9,910.4 L955.5,909.2 L957.9,907.7 L960.1,906.0 L962.3,904.0 L964.2,901.8 L966.1,899.5 L967.8,897.0 L969.5,894.4 L971.0,891.8 L972.4,889.0 L973.8,886.2 L975.1,883.4 L976.3,880.6 L977.5,877.8 L978.5,875.0 L979.6,872.2 L980.6,869.3 L981.5,866.5 L982.4,863.6 L983.2,860.8 L984.0,857.9 L984.8,855.0 L985.5,852.1 L986.2,849.2 L986.8,846.3 L987.5,843.4 L988.1,840.5 L988.7,837.6 L989.3,834.7 L989.8,831.7 L990.4,828.8 L991.0,825.9 L991.5,823.0 L992.1,820.0 L992.6,817.1 L993.1,814.1 L993.6,811.2 L994.1,808.2 L994.7,805.3 L995.2,802.3 L995.7,799.4 L996.1,796.4 L996.6,793.5 L997.1,790.5 L997.6,787.5 L998.0,784.6 L998.5,781.6 L999.0,778.6 L999.4,775.7 L999.9,772.7 L1000.3,769.7 L1000.8,766.8 L1001.2,763.8 L1001.6,760.8 L1002.1,757.9 L1002.5,754.9 L1002.9,751.9 L1003.3,748.9 L1003.7,746.0 L1004.2,743.0 L1004.6,740.0 L1005.0,737.0 L1005.4,734.1 L1005.8,731.1 L1006.2,728.1 L1006.6,725.1 L1007.0,722.2 L1007.4,719.2 L1007.8,716.2 L1008.2,713.3 L1008.6,710.3 L1009.0,707.3 L1009.4,704.3 L1009.8,701.4 L1010.2,698.4 L1010.6,695.4 L1011.0,692.5 L1011.4,689.5 L1011.8,686.5 L1012.2,683.5 L1012.6,680.6 L1013.0,677.6 L1013.4,674.6 L1013.8,671.7 L1014.2,668.7 L1014.6,665.7 L1015.0,662.8 L1015.4,659.8 L1015.8,656.8 L1016.2,653.9 L1016.6,650.9 L1017.1,647.9 L1017.5,645.0 L1017.9,642.0 L1018.3,639.1 L1018.8,636.1 L1019.2,633.1 L1019.6,630.2 L1020.1,627.2 L1020.5,624.3 L1021.0,621.3 L1021.4,618.3 L1021.9,615.4 L1022.4,612.4 L1022.8,609.5 L1023.3,606.5 L1023.8,603.6 L1024.3,600.6 L1024.8,597.6 L1025.3,594.7 L1025.8,591.7 L1026.3,588.8 L1026.8,585.8 L1027.4,582.9 L1027.9,579.9 L1028.4,577.0 L1029.0,574.1 L1029.6,571.1 L1030.2,568.2 L1030.8,565.3 L1031.5,562.3 L1032.2,559.4 L1032.9,556.5 L1033.6,553.6 L1034.4,550.7 L1035.3,547.8 L1036.2,544.9 L1037.1,542.0 L1038.1,539.2 L1039.2,536.3 L1040.3,533.5 L1041.8,530.9 L1044.0,529.1 L1046.7,528.3 L1049.5,529.0 L1051.9,530.8 L1053.8,533.3 L1055.3,535.9 L1056.5,538.7 L1057.3,541.6 L1057.9,544.6 L1058.5,547.6 L1059.1,550.6 L1059.8,553.5 L1060.4,556.5 L1061.1,559.4 L1061.8,562.3 L1062.6,565.2 L1063.3,568.2 L1064.0,571.1 L1064.7,574.0 L1065.5,576.9 L1066.1,579.8 L1066.8,582.7 L1067.4,585.6 L1068.0,588.5 L1068.6,591.4 L1069.1,594.4 L1069.7,597.3 L1070.2,600.3 L1070.6,603.2 L1071.1,606.2 L1071.5,609.1 L1071.9,612.1 L1072.3,615.1 L1072.7,618.0 L1073.1,621.0 L1073.4,624.0 L1073.8,627.0 L1074.1,630.0 L1074.4,632.9 L1074.8,635.9 L1075.1,638.9 L1075.4,641.9 L1075.7,644.9 L1076.0,647.9 L1076.3,650.9 L1076.6,653.9 L1077.0,656.8 L1077.3,659.8 L1077.6,662.8 L1078.0,665.8 L1078.3,668.8 L1078.7,671.8 L1079.1,674.7 L1079.4,677.7 L1079.8,680.7 L1080.2,683.7 L1080.6,686.6 L1081.0,689.6 L1081.3,692.6 L1081.7,695.5 L1082.1,698.5 L1082.5,701.5 L1083.0,704.4 L1083.4,707.4 L1083.8,710.4 L1084.2,713.3 L1084.6,716.3 L1085.0,719.3 L1085.4,722.2 L1085.8,725.2 L1086.2,728.2 L1086.6,731.1 L1087.0,734.1 L1087.4,737.1 L1087.8,740.0 L1088.2,743.0 L1088.6,746.0 L1089.0,748.9 L1089.4,751.9 L1089.8,754.9 L1090.2,757.8 L1090.6,760.8 L1090.9,763.8 L1091.3,766.8 L1091.7,769.7 L1092.1,772.7 L1092.5,775.7 L1092.8,778.6 L1093.2,781.6 L1093.6,784.6 L1094.0,787.6 L1094.3,790.5 L1094.7,793.5 L1095.1,796.5 L1095.5,799.5 L1095.8,802.4 L1096.2,805.4 L1096.6,808.4 L1097.0,811.3 L1097.3,814.3 L1097.7,817.3 L1098.1,820.3 L1098.5,823.2 L1098.9,826.2 L1099.2,829.2 L1099.6,832.2 L1100.0,835.1 L1100.4,838.1 L1100.8,841.1 L1101.2,844.1 L1101.6,847.0 L1102.0,850.0 L1102.4,853.0 L1102.8,855.9 L1103.2,858.9 L1103.6,861.9 L1104.0,864.9 L1104.4,867.8 L1104.8,870.8 L1105.2,873.8 L1105.6,876.7 L1106.1,879.7 L1106.5,882.7 L1106.9,885.6 L1107.4,888.6 L1107.8,891.6 L1108.2,894.5 L1108.6,897.5 L1109.1,900.5 L1109.5,903.4 L1109.9,906.4 L1110.3,909.4 L1110.8,912.3 L1111.2,915.3 L1111.6,918.3 L1112.0,921.2 L1112.4,924.2 L1112.8,927.2 L1113.2,930.1 L1113.6,933.1 L1114.0,936.1 L1114.4,939.0 L1114.8,942.0 L1115.1,945.0 L1115.5,947.9 L1115.9,950.9 L1116.2,953.8 L1116.6,956.8 L1116.9,959.8 L1117.3,962.7 L1117.6,965.7 L1118.0,968.7 L1118.3,971.7 L1118.7,974.6 L1119.1,977.6 L1119.5,980.6 L1119.9,983.6 L1120.4,986.6 L1120.8,989.6 L1121.3,992.6 L1121.8,995.5 L1122.3,998.5 L1122.9,1001.5 L1123.4,1004.5 L1124.0,1007.4 L1124.6,1010.4 L1125.2,1013.3 L1125.9,1016.2 L1126.6,1019.1 L1127.3,1022.0 L1128.0,1024.9 L1128.8,1027.7 L1129.6,1030.6 L1130.5,1033.4 L1131.3,1036.2 L1132.2,1039.0 L1133.1,1041.8 L1134.0,1044.7 L1135.0,1047.5 L1135.9,1050.3 L1136.9,1053.1 L1137.8,1056.0 L1138.8,1058.8 L1139.8,1061.7 L1140.8,1064.6 L1141.8,1067.5 L1142.8,1070.5 L1143.8,1073.5 L1144.8,1076.4 L1146.0,1079.3 L1147.2,1082.0 L1148.7,1084.6 L1150.4,1087.0 L1152.4,1089.0 L1154.6,1090.7 L1157.3,1092.0 L1160.1,1092.6 L1162.9,1092.3 L1165.4,1090.8 L1167.8,1088.8 L1170.0,1086.6 L1172.1,1084.4 L1174.1,1082.1 L1176.0,1079.8 L1177.8,1077.4 L1179.5,1074.9 L1181.2,1072.4 L1182.7,1069.9 L1184.2,1067.3 L1185.7,1064.7 L1187.1,1062.0 L1188.4,1059.4 L1189.8,1056.7 L1191.1,1054.0 L1192.3,1051.3 L1193.6,1048.6 L1194.8,1045.8 L1196.1,1043.1 L1197.3,1040.4 L1198.5,1037.6 L1199.7,1034.9 L1200.9,1032.2 L1202.2,1029.4 L1203.4,1026.7 L1204.7,1024.0 L1205.9,1021.3 L1207.2,1018.6 L1208.6,1015.9 L1209.9,1013.2 L1211.3,1010.6 L1212.8,1007.9 L1214.3,1005.3 L1215.8,1002.8 L1217.3,1000.2 L1218.9,997.6 L1220.5,995.1 L1222.2,992.6 L1223.8,990.1 L1225.5,987.6 L1227.3,985.2 L1229.0,982.8 L1230.8,980.4 L1232.6,978.0 L1234.4,975.6 L1236.3,973.3 L1238.1,971.0 L1240.0,968.7 L1242.0,966.5 L1243.9,964.2 L1245.9,962.0 L1247.9,959.8 L1250.0,957.6 L1252.1,955.4 L1254.2,953.3 L1256.5,951.2 L1258.7,949.2 L1261.0,947.3 L1263.4,945.4 L1265.8,943.6 L1268.3,941.9 L1270.8,940.4 L1273.4,939.0 L1276.1,937.6 L1278.8,936.4 L1281.6,935.3 L1284.3,934.3 L1287.2,933.4 L1290.0,932.5 L1292.9,931.7 L1295.8,930.9 L1298.8,930.1 L1301.7,929.4 L1304.6,928.7 L1307.6,928.1 L1310.5,927.4 L1313.4,926.7 L1316.4,926.0 L1319.3,925.3 L1322.2,924.6 L1325.1,923.9 L1328.0,923.2 L1330.9,922.5 L1333.8,921.8 L1336.7,921.2 L1339.6,920.6 L1342.6,920.0 L1345.5,919.4 L1348.5,918.8 L1351.4,918.3 L1354.4,917.8 L1357.3,917.4 L1360.3,916.9 L1363.3,916.5 L1366.3,916.1 L1369.2,915.8 L1372.2,915.4 L1375.2,915.1 L1378.2,914.8 L1381.2,914.5 L1384.2,914.2 L1387.1,914.0 L1390.1,913.7 L1393.1,913.5 L1396.1,913.3 L1399.1,913.1 L1402.1,913.0 L1405.1,912.8 L1408.1,912.7 L1411.1,912.5 L1414.0,912.4 L1417.0,912.3 L1420.0,912.3 L1423.0,912.2 L1426.0,912.1 L1429.0,912.1 L1432.0,912.0 L1435.0,912.0 L1438.0,912.0 L1441.0,912.0 L1444.0,912.0 L1447.0,912.0 L1450.0,912.0 L1453.0,912.0" fill="none" stroke="#000" stroke-width="1.3" stroke-dasharray="1 1.5"/>
<path d="M875.0,912.0 L878.0,912.0 L881.0,911.9 L884.0,911.9 L887.0,912.0 L890.0,912.0 L893.0,912.0 L896.0,912.0 L899.0,912.1 L902.0,912.1 L905.0,912.1 L908.0,912.0 L911.0,912.0 L914.0,911.9 L917.0,911.8 L920.0,911.8 L923.0,911.8 L925.9,911.9 L928.9,912.1 L931.9,912.3 L934.9,912.5 L937.9,912.6 L940.9,912.5 L944.0,912.3 L947.0,911.9 L949.9,911.4 L952.8,910.6 L955.6,909.5 L958.2,908.2 L960.6,906.7 L962.9,904.8 L964.9,902.8 L966.9,900.5 L968.6,898.1 L970.3,895.5 L971.8,892.9 L973.3,890.1 L974.6,887.4 L975.9,884.6 L977.2,881.8 L978.3,879.0 L979.4,876.2 L980.5,873.4 L981.5,870.5 L982.4,867.7 L983.3,864.8 L984.2,862.0 L985.0,859.1 L985.8,856.2 L986.5,853.3 L987.2,850.5 L987.9,847.6 L988.6,844.7 L989.2,841.8 L989.9,838.8 L990.5,835.9 L991.1,833.0 L991.7,830.1 L992.3,827.2 L992.8,824.2 L993.4,821.3 L993.9,818.4 L994.5,815.4 L995.0,812.5 L995.6,809.5 L996.1,806.6 L996.6,803.6 L997.1,800.7 L997.6,797.7 L998.1,794.7 L998.6,791.8 L999.1,788.8 L999.6,785.9 L1000.0,782.9 L1000.5,779.9 L1000.9,777.0 L1001.4,774.0 L1001.9,771.0 L1002.3,768.0 L1002.8,765.1 L1003.2,762.1 L1003.6,759.1 L1004.1,756.2 L1004.5,753.2 L1004.9,750.2 L1005.4,747.2 L1005.8,744.3 L1006.2,741.3 L1006.6,738.3 L1007.1,735.4 L1007.5,732.4 L1007.9,729.4 L1008.3,726.5 L1008.7,723.5 L1009.2,720.5 L1009.6,717.5 L1010.0,714.6 L1010.4,711.6 L1010.8,708.6 L1011.2,705.7 L1011.7,702.7 L1012.1,699.7 L1012.5,696.8 L1012.9,693.8 L1013.4,690.8 L1013.8,687.9 L1014.2,684.9 L1014.6,682.0 L1015.1,679.0 L1015.5,676.0 L1015.9,673.1 L1016.4,670.1 L1016.8,667.1 L1017.3,664.2 L1017.7,661.2 L1018.2,658.3 L1018.6,655.3 L1019.1,652.3 L1019.5,649.4 L1020.0,646.4 L1020.5,643.5 L1021.0,640.5 L1021.4,637.6 L1021.9,634.6 L1022.4,631.7 L1022.9,628.7 L1023.4,625.8 L1023.9,622.8 L1024.4,619.9 L1025.0,616.9 L1025.5,614.0 L1026.0,611.0 L1026.6,608.1 L1027.1,605.1 L1027.7,602.2 L1028.2,599.2 L1028.8,596.3 L1029.4,593.3 L1030.0,590.4 L1030.7,587.5 L1031.3,584.6 L1032.1,581.6 L1032.8,578.7 L1033.6,575.8 L1034.4,573.0 L1035.3,570.1 L1036.2,567.2 L1037.2,564.4 L1038.3,561.5 L1039.4,558.7 L1040.6,555.9 L1042.3,553.5 L1044.8,551.9 L1047.6,551.6 L1050.3,552.6 L1052.6,554.7 L1054.4,557.2 L1055.8,559.9 L1056.8,562.7 L1057.5,565.7 L1058.2,568.7 L1058.8,571.6 L1059.5,574.6 L1060.2,577.5 L1060.9,580.5 L1061.7,583.4 L1062.5,586.3 L1063.2,589.2 L1064.0,592.1 L1064.7,595.0 L1065.5,597.9 L1066.2,600.8 L1066.9,603.7 L1067.5,606.6 L1068.1,609.5 L1068.7,612.4 L1069.3,615.4 L1069.8,618.3 L1070.3,621.2 L1070.8,624.2 L1071.2,627.2 L1071.7,630.1 L1072.1,633.1 L1072.5,636.1 L1072.9,639.0 L1073.3,642.0 L1073.6,645.0 L1074.0,648.0 L1074.3,650.9 L1074.7,653.9 L1075.0,656.9 L1075.3,659.9 L1075.7,662.9 L1076.0,665.9 L1076.3,668.9 L1076.7,671.8 L1077.0,674.8 L1077.4,677.8 L1077.7,680.8 L1078.1,683.8 L1078.5,686.7 L1078.9,689.7 L1079.3,692.7 L1079.7,695.7 L1080.1,698.6 L1080.5,701.6 L1080.9,704.6 L1081.3,707.5 L1081.7,710.5 L1082.1,713.5 L1082.6,716.4 L1083.0,719.4 L1083.4,722.4 L1083.9,725.3 L1084.3,728.3 L1084.7,731.2 L1085.2,734.2 L1085.6,737.2 L1086.0,740.1 L1086.4,743.1 L1086.9,746.1 L1087.3,749.0 L1087.7,752.0 L1088.1,755.0 L1088.5,757.9 L1089.0,760.9 L1089.4,763.9 L1089.8,766.8 L1090.2,769.8 L1090.6,772.8 L1091.0,775.7 L1091.4,778.7 L1091.8,781.7 L1092.2,784.6 L1092.6,787.6 L1093.0,790.6 L1093.4,793.5 L1093.8,796.5 L1094.2,799.5 L1094.6,802.5 L1095.0,805.4 L1095.3,808.4 L1095.7,811.4 L1096.1,814.3 L1096.5,817.3 L1096.9,820.3 L1097.3,823.3 L1097.7,826.2 L1098.1,829.2 L1098.5,832.2 L1098.9,835.1 L1099.3,838.1 L1099.8,841.1 L1100.2,844.0 L1100.6,847.0 L1101.0,850.0 L1101.4,853.0 L1101.8,855.9 L1102.2,858.9 L1102.7,861.9 L1103.1,864.8 L1103.5,867.8 L1104.0,870.8 L1104.4,873.7 L1104.8,876.7 L1105.3,879.7 L1105.7,882.6 L1106.2,885.6 L1106.6,888.6 L1107.1,891.5 L1107.5,894.5 L1108.0,897.5 L1108.4,900.4 L1108.9,903.4 L1109.3,906.4 L1109.8,909.3 L1110.2,912.3 L1110.7,915.2 L1111.1,918.2 L1111.5,921.2 L1112.0,924.1 L1112.4,927.1 L1112.8,930.1 L1113.2,933.0 L1113.6,936.0 L1114.0,938.9 L1114.4,941.9 L1114.8,944.9 L1115.2,947.8 L1115.5,950.8 L1115.9,953.7 L1116.3,956.7 L1116.6,959.7 L1117.0,962.6 L1117.4,965.6 L1117.8,968.6 L1118.1,971.6 L1118.6,974.5 L1119.0,977.5 L1119.4,980.5 L1119.9,983.5 L1120.4,986.5 L1120.9,989.5 L1121.4,992.4 L1122.0,995.4 L1122.5,998.4 L1123.1,1001.3 L1123.8,1004.3 L1124.4,1007.2 L1125.1,1010.1 L1125.8,1013.0 L1126.5,1015.9 L1127.3,1018.8 L1128.1,1021.6 L1128.9,1024.5 L1129.8,1027.3 L1130.7,1030.1 L1131.6,1032.9 L1132.6,1035.7 L1133.5,1038.5 L1134.5,1041.3 L1135.5,1044.1 L1136.5,1046.9 L1137.5,1049.8 L1138.6,1052.6 L1139.6,1055.5 L1140.6,1058.4 L1141.7,1061.3 L1142.7,1064.3 L1143.8,1067.2 L1145.0,1070.1 L1146.3,1072.8 L1147.7,1075.4 L1149.4,1077.7 L1151.4,1079.8 L1153.8,1081.4 L1156.4,1082.7 L1159.3,1083.3 L1162.1,1083.0 L1164.7,1081.5 L1167.1,1079.5 L1169.3,1077.4 L1171.5,1075.2 L1173.5,1073.0 L1175.5,1070.7 L1177.3,1068.3 L1179.1,1065.9 L1180.8,1063.4 L1182.4,1060.9 L1183.9,1058.4 L1185.4,1055.8 L1186.9,1053.2 L1188.3,1050.5 L1189.6,1047.9 L1191.0,1045.2 L1192.3,1042.5 L1193.6,1039.8 L1194.9,1037.1 L1196.1,1034.4 L1197.4,1031.7 L1198.7,1029.0 L1199.9,1026.2 L1201.2,1023.5 L1202.5,1020.8 L1203.8,1018.1 L1205.1,1015.4 L1206.5,1012.8 L1207.9,1010.1 L1209.3,1007.5 L1210.8,1004.9 L1212.3,1002.3 L1213.9,999.7 L1215.5,997.2 L1217.1,994.7 L1218.8,992.2 L1220.5,989.7 L1222.2,987.3 L1224.0,984.8 L1225.7,982.5 L1227.5,980.1 L1229.3,977.7 L1231.2,975.4 L1233.0,973.1 L1234.9,970.8 L1236.8,968.5 L1238.8,966.2 L1240.8,964.0 L1242.8,961.7 L1244.8,959.5 L1246.9,957.3 L1249.1,955.2 L1251.2,953.1 L1253.5,951.0 L1255.7,949.0 L1258.0,947.1 L1260.4,945.3 L1262.8,943.6 L1265.3,941.9 L1267.8,940.4 L1270.4,938.9 L1273.0,937.6 L1275.7,936.3 L1278.5,935.2 L1281.3,934.1 L1284.1,933.2 L1286.9,932.2 L1289.8,931.4 L1292.7,930.6 L1295.6,929.8 L1298.6,929.1 L1301.5,928.4 L1304.5,927.7 L1307.4,927.1 L1310.4,926.4 L1313.3,925.8 L1316.2,925.1 L1319.2,924.5 L1322.1,923.8 L1325.0,923.1 L1327.9,922.5 L1330.8,921.9 L1333.7,921.3 L1336.6,920.7 L1339.6,920.1 L1342.5,919.5 L1345.5,919.0 L1348.4,918.5 L1351.4,918.0 L1354.3,917.6 L1357.3,917.1 L1360.3,916.7 L1363.3,916.3 L1366.2,915.9 L1369.2,915.5 L1372.2,915.2 L1375.2,914.9 L1378.2,914.6 L1381.2,914.3 L1384.1,914.1 L1387.1,913.8 L1390.1,913.6 L1393.1,913.4 L1396.1,913.2 L1399.1,913.0 L1402.1,912.9 L1405.1,912.7 L1408.1,912.6 L1411.1,912.5 L1414.0,912.4 L1417.0,912.3 L1420.0,912.2 L1423.0,912.2 L1426.0,912.1 L1429.0,912.1 L1432.0,912.0 L1435.0,912.0 L1438.0,912.0 L1441.0,912.0 L1444.0,912.0 L1447.0,912.0 L1450.0,912.0 L1453.0,912.0" fill="none" stroke="#000" stroke-width="1.3" stroke-dasharray="1 2.5"/>
<path d="M875.0,911.9 L878.0,912.1 L881.0,912.1 L884.0,912.1 L887.0,912.1 L890.0,912.1 L893.0,912.0 L896.0,912.0 L899.0,911.9 L902.0,911.8 L905.0,911.8 L908.0,911.8 L911.0,911.8 L913.9,911.8 L916.9,911.9 L919.9,912.0 L922.9,912.1 L925.8,912.2 L928.8,912.3 L931.8,912.4 L934.8,912.4 L937.8,912.4 L940.9,912.3 L943.9,912.2 L946.9,911.9 L949.9,911.5 L952.8,910.9 L955.6,910.0 L958.3,909.0 L960.8,907.6 L963.2,905.9 L965.3,904.0 L967.4,901.8 L969.2,899.4 L971.0,896.9 L972.6,894.3 L974.2,891.6 L975.6,888.8 L977.0,886.1 L978.3,883.3 L979.5,880.5 L980.6,877.7 L981.7,874.9 L982.7,872.1 L983.7,869.3 L984.6,866.5 L985.5,863.6 L986.3,860.8 L987.1,857.9 L987.9,855.0 L988.6,852.2 L989.3,849.3 L990.0,846.4 L990.6,843.5 L991.3,840.6 L991.9,837.7 L992.5,834.8 L993.2,831.9 L993.8,828.9 L994.4,826.0 L995.0,823.1 L995.5,820.2 L996.1,817.2 L996.7,814.3 L997.2,811.3 L997.8,808.4 L998.3,805.4 L998.9,802.5 L999.4,799.5 L999.9,796.6 L1000.4,793.6 L1001.0,790.7 L1001.5,787.7 L1001.9,784.7 L1002.4,781.8 L1002.9,778.8 L1003.4,775.9 L1003.9,772.9 L1004.3,769.9 L1004.8,767.0 L1005.3,764.0 L1005.7,761.0 L1006.2,758.1 L1006.6,755.1 L1007.1,752.1 L1007.5,749.2 L1008.0,746.2 L1008.4,743.2 L1008.8,740.3 L1009.3,737.3 L1009.7,734.3 L1010.1,731.4 L1010.6,728.4 L1011.0,725.4 L1011.5,722.5 L1011.9,719.5 L1012.3,716.5 L1012.8,713.6 L1013.2,710.6 L1013.7,707.7 L1014.1,704.7 L1014.5,701.7 L1015.0,698.8 L1015.5,695.8 L1015.9,692.9 L1016.4,689.9 L1016.8,687.0 L1017.3,684.0 L1017.8,681.1 L1018.3,678.1 L1018.8,675.2 L1019.3,672.2 L1019.8,669.3 L1020.3,666.3 L1020.8,663.4 L1021.3,660.4 L1021.8,657.5 L1022.4,654.6 L1022.9,651.6 L1023.5,648.7 L1024.0,645.7 L1024.6,642.8 L1025.2,639.9 L1025.8,637.0 L1026.4,634.0 L1027.0,631.1 L1027.6,628.2 L1028.3,625.3 L1028.9,622.3 L1029.6,619.4 L1030.3,616.5 L1031.0,613.6 L1031.7,610.7 L1032.4,607.8 L1033.1,604.8 L1033.9,601.9 L1034.7,599.0 L1035.4,596.1 L1036.2,593.2 L1037.1,590.3 L1038.2,587.5 L1039.7,584.7 L1041.7,582.3 L1044.0,580.6 L1046.7,579.8 L1049.3,580.3 L1051.7,581.7 L1053.7,583.8 L1055.2,586.3 L1056.4,589.1 L1057.3,592.1 L1058.0,595.1 L1058.7,598.2 L1059.5,601.2 L1060.3,604.2 L1061.1,607.2 L1061.9,610.1 L1062.7,613.0 L1063.5,615.8 L1064.3,618.7 L1065.1,621.5 L1065.9,624.4 L1066.6,627.3 L1067.3,630.1 L1067.9,633.0 L1068.5,635.9 L1069.1,638.8 L1069.7,641.8 L1070.2,644.7 L1070.7,647.6 L1071.2,650.6 L1071.6,653.6 L1072.1,656.5 L1072.5,659.5 L1072.9,662.5 L1073.3,665.4 L1073.7,668.4 L1074.1,671.4 L1074.4,674.4 L1074.8,677.4 L1075.1,680.4 L1075.5,683.4 L1075.9,686.3 L1076.2,689.3 L1076.6,692.3 L1077.0,695.3 L1077.4,698.3 L1077.8,701.3 L1078.2,704.2 L1078.6,707.2 L1079.0,710.2 L1079.4,713.1 L1079.9,716.1 L1080.3,719.1 L1080.8,722.0 L1081.2,725.0 L1081.7,727.9 L1082.1,730.9 L1082.6,733.8 L1083.0,736.8 L1083.5,739.7 L1084.0,742.7 L1084.4,745.6 L1084.9,748.6 L1085.3,751.5 L1085.8,754.5 L1086.2,757.4 L1086.7,760.4 L1087.1,763.4 L1087.6,766.3 L1088.0,769.3 L1088.5,772.2 L1088.9,775.2 L1089.3,778.1 L1089.8,781.1 L1090.2,784.1 L1090.6,787.0 L1091.1,790.0 L1091.5,792.9 L1091.9,795.9 L1092.3,798.9 L1092.8,801.8 L1093.2,804.8 L1093.6,807.8 L1094.0,810.7 L1094.5,813.7 L1094.9,816.7 L1095.3,819.6 L1095.7,822.6 L1096.2,825.6 L1096.6,828.5 L1097.0,831.5 L1097.4,834.5 L1097.9,837.4 L1098.3,840.4 L1098.7,843.3 L1099.2,846.3 L1099.6,849.3 L1100.1,852.2 L1100.5,855.2 L1101.0,858.2 L1101.4,861.1 L1101.9,864.1 L1102.3,867.1 L1102.8,870.0 L1103.2,873.0 L1103.7,875.9 L1104.2,878.9 L1104.7,881.9 L1105.1,884.8 L1105.6,887.8 L1106.1,890.7 L1106.6,893.7 L1107.1,896.7 L1107.6,899.6 L1108.0,902.6 L1108.5,905.5 L1109.0,908.5 L1109.5,911.4 L1109.9,914.4 L1110.4,917.3 L1110.9,920.3 L1111.3,923.2 L1111.8,926.2 L1112.2,929.1 L1112.7,932.1 L1113.1,935.1 L1113.5,938.0 L1113.9,941.0 L1114.3,943.9 L1114.7,946.9 L1115.1,949.8 L1115.5,952.8 L1115.9,955.7 L1116.3,958.7 L1116.7,961.6 L1117.1,964.6 L1117.5,967.6 L1118.0,970.6 L1118.5,973.6 L1119.0,976.5 L1119.5,979.5 L1120.0,982.5 L1120.6,985.5 L1121.2,988.5 L1121.8,991.4 L1122.4,994.4 L1123.1,997.3 L1123.8,1000.2 L1124.6,1003.1 L1125.3,1006.0 L1126.1,1008.8 L1127.0,1011.7 L1127.8,1014.5 L1128.7,1017.3 L1129.7,1020.0 L1130.6,1022.8 L1131.6,1025.5 L1132.6,1028.3 L1133.7,1031.1 L1134.7,1033.8 L1135.8,1036.6 L1136.9,1039.4 L1138.0,1042.3 L1139.1,1045.2 L1140.3,1048.1 L1141.4,1051.0 L1142.6,1054.0 L1143.9,1056.9 L1145.3,1059.7 L1146.8,1062.2 L1148.6,1064.5 L1150.7,1066.4 L1153.0,1067.9 L1155.7,1068.8 L1158.6,1069.1 L1161.4,1068.5 L1164.1,1067.1 L1166.6,1065.4 L1168.9,1063.5 L1171.1,1061.5 L1173.2,1059.4 L1175.2,1057.1 L1177.1,1054.8 L1178.9,1052.4 L1180.7,1049.9 L1182.3,1047.4 L1183.9,1044.8 L1185.4,1042.2 L1186.9,1039.6 L1188.4,1036.9 L1189.8,1034.3 L1191.2,1031.6 L1192.6,1029.0 L1194.0,1026.3 L1195.3,1023.6 L1196.7,1021.0 L1198.1,1018.3 L1199.4,1015.6 L1200.8,1013.0 L1202.2,1010.4 L1203.6,1007.7 L1205.1,1005.1 L1206.6,1002.6 L1208.1,1000.0 L1209.6,997.5 L1211.3,995.0 L1212.9,992.5 L1214.6,990.0 L1216.3,987.6 L1218.1,985.2 L1219.9,982.8 L1221.7,980.4 L1223.6,978.0 L1225.4,975.7 L1227.3,973.3 L1229.3,971.0 L1231.2,968.7 L1233.2,966.5 L1235.2,964.3 L1237.2,962.1 L1239.3,960.0 L1241.4,957.9 L1243.5,955.9 L1245.7,953.9 L1248.0,951.9 L1250.2,949.9 L1252.5,948.0 L1254.9,946.1 L1257.3,944.2 L1259.7,942.4 L1262.2,940.8 L1264.8,939.2 L1267.4,937.7 L1270.0,936.3 L1272.7,935.1 L1275.4,933.9 L1278.2,932.9 L1281.0,931.9 L1283.9,931.1 L1286.8,930.3 L1289.7,929.5 L1292.6,928.8 L1295.5,928.2 L1298.5,927.6 L1301.4,927.0 L1304.4,926.4 L1307.3,925.8 L1310.3,925.3 L1313.2,924.7 L1316.2,924.1 L1319.1,923.4 L1322.0,922.8 L1325.0,922.2 L1327.9,921.6 L1330.8,921.0 L1333.7,920.4 L1336.7,919.8 L1339.6,919.3 L1342.5,918.8 L1345.5,918.3 L1348.4,917.8 L1351.4,917.4 L1354.4,917.0 L1357.4,916.6 L1360.3,916.2 L1363.3,915.9 L1366.3,915.5 L1369.3,915.2 L1372.3,914.9 L1375.2,914.7 L1378.2,914.4 L1381.2,914.1 L1384.2,913.9 L1387.2,913.7 L1390.2,913.5 L1393.2,913.3 L1396.1,913.1 L1399.1,913.0 L1402.1,912.8 L1405.1,912.7 L1408.1,912.6 L1411.1,912.5 L1414.1,912.4 L1417.1,912.3 L1420.1,912.2 L1423.1,912.2 L1426.0,912.1 L1429.0,912.1 L1432.0,912.0 L1435.0,912.0 L1438.0,912.0 L1441.0,912.0 L1444.0,912.0 L1447.0,912.0 L1450.0,912.0 L1453.0,912.0" fill="none" stroke="#000" stroke-width="1.3" stroke-dasharray="2 2"/>
<path d="M875.0,912.0 L878.0,912.0 L881.0,912.1 L884.0,912.1 L887.0,912.1 L890.0,912.1 L893.0,912.0 L896.0,912.0 L899.0,911.9 L902.0,911.9 L905.0,911.9 L908.0,911.9 L911.0,911.9 L914.0,911.9 L917.0,911.9 L920.0,912.0 L922.9,912.1 L925.9,912.1 L928.9,912.2 L931.9,912.3 L934.9,912.3 L937.9,912.3 L940.9,912.3 L944.0,912.2 L947.0,912.0 L950.1,911.7 L953.0,911.3 L955.9,910.6 L958.7,909.7 L961.3,908.6 L963.8,907.1 L966.1,905.3 L968.2,903.2 L970.2,900.9 L972.1,898.5 L973.9,896.0 L975.5,893.3 L977.1,890.7 L978.6,888.0 L979.9,885.3 L981.2,882.5 L982.4,879.8 L983.6,877.0 L984.7,874.2 L985.7,871.4 L986.6,868.6 L987.5,865.8 L988.4,863.0 L989.2,860.1 L990.0,857.2 L990.8,854.4 L991.5,851.5 L992.3,848.6 L993.0,845.7 L993.7,842.8 L994.3,839.9 L995.0,836.9 L995.6,834.0 L996.3,831.1 L996.9,828.1 L997.5,825.2 L998.1,822.3 L998.7,819.3 L999.3,816.4 L999.9,813.4 L1000.4,810.5 L1001.0,807.5 L1001.5,804.5 L1002.1,801.6 L1002.6,798.6 L1003.2,795.7 L1003.7,792.7 L1004.2,789.7 L1004.7,786.8 L1005.3,783.8 L1005.8,780.9 L1006.3,777.9 L1006.8,775.0 L1007.3,772.0 L1007.8,769.0 L1008.4,766.1 L1008.9,763.1 L1009.4,760.2 L1009.9,757.2 L1010.4,754.3 L1010.9,751.3 L1011.4,748.4 L1011.9,745.4 L1012.5,742.5 L1013.0,739.5 L1013.5,736.6 L1014.0,733.6 L1014.5,730.7 L1015.0,727.8 L1015.6,724.8 L1016.1,721.9 L1016.6,718.9 L1017.1,716.0 L1017.7,713.0 L1018.2,710.1 L1018.7,707.1 L1019.3,704.2 L1019.8,701.2 L1020.4,698.3 L1020.9,695.3 L1021.5,692.4 L1022.1,689.5 L1022.6,686.5 L1023.2,683.6 L1023.8,680.6 L1024.4,677.7 L1024.9,674.7 L1025.5,671.8 L1026.1,668.8 L1026.7,665.9 L1027.4,662.9 L1028.0,660.0 L1028.6,657.0 L1029.3,654.1 L1030.0,651.2 L1030.7,648.3 L1031.5,645.4 L1032.4,642.5 L1033.3,639.6 L1034.3,636.8 L1035.4,634.0 L1036.6,631.3 L1038.0,628.6 L1039.4,625.9 L1041.0,623.3 L1042.8,620.9 L1044.8,619.3 L1047.3,618.9 L1050.1,619.9 L1052.7,621.8 L1054.7,624.2 L1056.1,626.9 L1057.1,629.9 L1057.9,632.9 L1058.7,635.9 L1059.5,638.8 L1060.4,641.7 L1061.3,644.6 L1062.2,647.5 L1063.1,650.3 L1064.0,653.2 L1064.9,656.0 L1065.7,658.9 L1066.5,661.7 L1067.3,664.6 L1068.0,667.5 L1068.6,670.4 L1069.2,673.3 L1069.8,676.2 L1070.4,679.2 L1070.9,682.1 L1071.4,685.1 L1071.9,688.0 L1072.4,691.0 L1072.8,694.0 L1073.3,697.0 L1073.7,699.9 L1074.1,702.9 L1074.5,705.9 L1074.9,708.9 L1075.3,711.9 L1075.7,714.9 L1076.1,717.9 L1076.5,720.8 L1077.0,723.8 L1077.4,726.8 L1077.9,729.7 L1078.3,732.7 L1078.8,735.7 L1079.3,738.6 L1079.8,741.6 L1080.3,744.5 L1080.8,747.5 L1081.3,750.5 L1081.8,753.4 L1082.3,756.3 L1082.8,759.3 L1083.3,762.2 L1083.8,765.2 L1084.3,768.1 L1084.9,771.1 L1085.4,774.0 L1085.9,777.0 L1086.4,779.9 L1086.9,782.9 L1087.4,785.8 L1087.9,788.8 L1088.4,791.8 L1088.8,794.7 L1089.3,797.7 L1089.8,800.6 L1090.3,803.6 L1090.8,806.6 L1091.3,809.5 L1091.7,812.5 L1092.2,815.4 L1092.7,818.4 L1093.2,821.4 L1093.6,824.3 L1094.1,827.3 L1094.6,830.2 L1095.1,833.2 L1095.5,836.2 L1096.0,839.1 L1096.5,842.1 L1097.0,845.1 L1097.5,848.0 L1097.9,851.0 L1098.4,853.9 L1098.9,856.9 L1099.4,859.9 L1099.9,862.8 L1100.4,865.8 L1100.9,868.7 L1101.4,871.7 L1101.9,874.6 L1102.4,877.6 L1103.0,880.6 L1103.5,883.5 L1104.0,886.5 L1104.6,889.4 L1105.1,892.4 L1105.6,895.3 L1106.1,898.3 L1106.7,901.2 L1107.2,904.2 L1107.7,907.1 L1108.3,910.0 L1108.8,913.0 L1109.3,915.9 L1109.8,918.9 L1110.3,921.9 L1110.8,924.8 L1111.3,927.8 L1111.8,930.7 L1112.2,933.7 L1112.7,936.6 L1113.2,939.6 L1113.6,942.6 L1114.0,945.5 L1114.4,948.5 L1114.8,951.5 L1115.3,954.4 L1115.7,957.4 L1116.1,960.4 L1116.6,963.3 L1117.0,966.3 L1117.5,969.3 L1118.1,972.2 L1118.6,975.2 L1119.2,978.1 L1119.8,981.1 L1120.4,984.0 L1121.1,986.9 L1121.8,989.9 L1122.6,992.8 L1123.4,995.7 L1124.2,998.5 L1125.0,1001.4 L1126.0,1004.2 L1126.9,1007.1 L1127.9,1009.9 L1128.9,1012.7 L1130.0,1015.5 L1131.1,1018.3 L1132.2,1021.1 L1133.3,1023.9 L1134.4,1026.6 L1135.6,1029.4 L1136.7,1032.2 L1137.9,1034.9 L1139.1,1037.7 L1140.2,1040.5 L1141.4,1043.2 L1142.7,1045.9 L1144.2,1048.5 L1146.0,1051.0 L1148.1,1053.3 L1150.5,1055.3 L1153.1,1056.7 L1155.9,1057.2 L1158.8,1056.9 L1161.5,1055.9 L1164.1,1054.3 L1166.6,1052.5 L1168.9,1050.6 L1171.2,1048.6 L1173.3,1046.5 L1175.3,1044.2 L1177.2,1041.9 L1179.1,1039.6 L1180.8,1037.1 L1182.5,1034.6 L1184.2,1032.1 L1185.8,1029.6 L1187.3,1027.0 L1188.8,1024.4 L1190.3,1021.8 L1191.8,1019.2 L1193.3,1016.6 L1194.7,1013.9 L1196.1,1011.3 L1197.6,1008.7 L1199.1,1006.1 L1200.5,1003.5 L1202.0,1000.9 L1203.6,998.3 L1205.1,995.8 L1206.7,993.3 L1208.4,990.8 L1210.1,988.3 L1211.9,985.9 L1213.7,983.5 L1215.5,981.1 L1217.4,978.7 L1219.3,976.4 L1221.2,974.1 L1223.2,971.9 L1225.2,969.7 L1227.2,967.5 L1229.2,965.3 L1231.2,963.1 L1233.3,961.0 L1235.4,958.9 L1237.6,956.8 L1239.8,954.7 L1242.0,952.7 L1244.3,950.7 L1246.6,948.8 L1248.9,946.9 L1251.3,945.0 L1253.8,943.3 L1256.2,941.6 L1258.8,939.9 L1261.3,938.4 L1263.9,937.0 L1266.6,935.6 L1269.3,934.4 L1272.0,933.3 L1274.8,932.2 L1277.6,931.3 L1280.5,930.4 L1283.4,929.6 L1286.3,928.8 L1289.2,928.1 L1292.1,927.5 L1295.1,926.9 L1298.0,926.3 L1301.0,925.7 L1304.0,925.2 L1307.0,924.6 L1309.9,924.1 L1312.9,923.5 L1315.8,923.0 L1318.8,922.4 L1321.7,921.9 L1324.7,921.3 L1327.6,920.8 L1330.5,920.2 L1333.5,919.7 L1336.4,919.2 L1339.4,918.7 L1342.3,918.3 L1345.3,917.8 L1348.2,917.4 L1351.2,917.0 L1354.2,916.6 L1357.2,916.2 L1360.2,915.9 L1363.1,915.6 L1366.1,915.3 L1369.1,915.0 L1372.1,914.7 L1375.1,914.4 L1378.1,914.2 L1381.1,914.0 L1384.1,913.7 L1387.1,913.5 L1390.1,913.4 L1393.1,913.2 L1396.1,913.0 L1399.1,912.9 L1402.0,912.8 L1405.0,912.6 L1408.0,912.5 L1411.0,912.4 L1414.0,912.4 L1417.0,912.3 L1420.0,912.2 L1423.0,912.2 L1426.0,912.1 L1429.0,912.1 L1432.0,912.0 L1435.0,912.0 L1438.0,912.0 L1441.0,912.0 L1444.0,912.0 L1447.0,912.0 L1450.0,912.0 L1453.0,912.0" fill="none" stroke="#000" stroke-width="1.3" stroke-dasharray="1 2"/>
<path d="M875.0,912.0 L878.0,912.0 L881.0,912.1 L884.0,912.1 L887.0,912.1 L890.0,912.1 L893.0,912.0 L896.0,912.0 L899.0,912.0 L902.0,911.9 L905.0,911.9 L908.0,911.9 L911.0,911.9 L914.0,911.9 L917.0,911.9 L919.9,912.0 L922.9,912.0 L925.9,912.1 L928.9,912.1 L931.8,912.2 L934.8,912.2 L937.8,912.2 L940.9,912.2 L943.9,912.2 L946.9,912.1 L950.0,911.9 L953.0,911.6 L955.9,911.0 L958.7,910.3 L961.5,909.3 L964.0,907.9 L966.4,906.3 L968.7,904.4 L970.9,902.2 L972.9,899.9 L974.7,897.5 L976.5,894.9 L978.1,892.4 L979.7,889.7 L981.1,887.1 L982.5,884.4 L983.8,881.7 L985.0,879.0 L986.1,876.2 L987.1,873.4 L988.1,870.6 L989.1,867.8 L990.0,865.0 L990.9,862.1 L991.7,859.3 L992.5,856.4 L993.3,853.5 L994.0,850.6 L994.8,847.7 L995.5,844.8 L996.2,841.9 L996.9,839.0 L997.6,836.1 L998.2,833.1 L998.9,830.2 L999.5,827.3 L1000.2,824.3 L1000.8,821.4 L1001.4,818.4 L1002.0,815.5 L1002.6,812.5 L1003.2,809.6 L1003.7,806.6 L1004.3,803.7 L1004.9,800.7 L1005.5,797.8 L1006.0,794.9 L1006.6,791.9 L1007.2,789.0 L1007.7,786.0 L1008.3,783.1 L1008.9,780.2 L1009.4,777.2 L1010.0,774.3 L1010.6,771.4 L1011.1,768.4 L1011.7,765.5 L1012.3,762.6 L1012.8,759.6 L1013.4,756.7 L1014.0,753.8 L1014.5,750.8 L1015.1,747.9 L1015.7,745.0 L1016.3,742.1 L1016.8,739.1 L1017.4,736.2 L1018.0,733.3 L1018.6,730.3 L1019.2,727.4 L1019.8,724.5 L1020.4,721.5 L1021.0,718.6 L1021.6,715.7 L1022.2,712.7 L1022.8,709.8 L1023.4,706.9 L1024.1,703.9 L1024.7,701.0 L1025.3,698.0 L1026.0,695.1 L1026.6,692.1 L1027.3,689.2 L1028.0,686.2 L1028.6,683.3 L1029.3,680.3 L1030.1,677.4 L1030.9,674.5 L1031.7,671.6 L1032.7,668.8 L1033.7,666.0 L1034.9,663.2 L1036.2,660.5 L1037.6,657.9 L1039.2,655.3 L1040.9,652.9 L1042.8,650.7 L1045.0,649.1 L1047.4,648.5 L1050.0,649.3 L1052.5,651.0 L1054.4,653.3 L1055.9,656.1 L1057.0,659.1 L1058.1,662.2 L1059.1,665.2 L1060.1,668.1 L1061.1,671.0 L1062.1,673.9 L1063.0,676.7 L1064.0,679.5 L1064.9,682.3 L1065.8,685.1 L1066.6,687.9 L1067.3,690.7 L1068.1,693.6 L1068.7,696.5 L1069.4,699.4 L1070.0,702.3 L1070.6,705.2 L1071.1,708.2 L1071.7,711.1 L1072.2,714.1 L1072.7,717.1 L1073.1,720.1 L1073.6,723.0 L1074.1,726.0 L1074.5,729.0 L1075.0,732.0 L1075.4,735.0 L1075.9,738.0 L1076.4,740.9 L1076.9,743.9 L1077.4,746.9 L1077.9,749.8 L1078.4,752.8 L1078.9,755.7 L1079.5,758.7 L1080.0,761.6 L1080.5,764.6 L1081.1,767.5 L1081.6,770.4 L1082.2,773.4 L1082.8,776.3 L1083.3,779.2 L1083.9,782.2 L1084.4,785.1 L1085.0,788.0 L1085.5,791.0 L1086.1,793.9 L1086.6,796.9 L1087.1,799.8 L1087.7,802.7 L1088.2,805.7 L1088.7,808.6 L1089.3,811.6 L1089.8,814.5 L1090.3,817.5 L1090.8,820.4 L1091.4,823.4 L1091.9,826.3 L1092.4,829.3 L1092.9,832.2 L1093.5,835.2 L1094.0,838.1 L1094.5,841.1 L1095.0,844.0 L1095.6,847.0 L1096.1,849.9 L1096.6,852.9 L1097.2,855.9 L1097.7,858.8 L1098.2,861.8 L1098.8,864.7 L1099.3,867.7 L1099.9,870.6 L1100.4,873.5 L1101.0,876.5 L1101.5,879.4 L1102.1,882.4 L1102.7,885.3 L1103.3,888.3 L1103.8,891.2 L1104.4,894.1 L1105.0,897.1 L1105.6,900.0 L1106.2,902.9 L1106.8,905.9 L1107.3,908.8 L1107.9,911.8 L1108.5,914.7 L1109.0,917.6 L1109.6,920.6 L1110.1,923.5 L1110.7,926.4 L1111.2,929.4 L1111.7,932.3 L1112.2,935.3 L1112.7,938.2 L1113.2,941.2 L1113.6,944.1 L1114.1,947.1 L1114.5,950.1 L1115.0,953.0 L1115.5,956.0 L1116.0,958.9 L1116.6,961.9 L1117.2,964.9 L1117.8,967.8 L1118.4,970.7 L1119.1,973.7 L1119.8,976.6 L1120.6,979.5 L1121.4,982.4 L1122.3,985.3 L1123.2,988.1 L1124.1,990.9 L1125.1,993.8 L1126.1,996.5 L1127.2,999.3 L1128.3,1002.1 L1129.5,1004.8 L1130.7,1007.5 L1131.9,1010.2 L1133.1,1013.0 L1134.4,1015.7 L1135.7,1018.4 L1137.0,1021.1 L1138.3,1023.9 L1139.6,1026.6 L1141.0,1029.4 L1142.5,1032.0 L1144.3,1034.4 L1146.4,1036.6 L1148.8,1038.5 L1151.4,1039.8 L1154.3,1040.3 L1157.2,1040.2 L1160.0,1039.3 L1162.7,1038.0 L1165.3,1036.5 L1167.7,1034.7 L1170.1,1032.9 L1172.3,1030.9 L1174.4,1028.7 L1176.4,1026.5 L1178.4,1024.2 L1180.2,1021.8 L1182.0,1019.4 L1183.8,1016.9 L1185.5,1014.4 L1187.2,1011.9 L1188.8,1009.4 L1190.5,1006.9 L1192.1,1004.4 L1193.7,1001.9 L1195.3,999.3 L1196.9,996.8 L1198.5,994.3 L1200.1,991.8 L1201.8,989.3 L1203.5,986.9 L1205.2,984.4 L1206.9,982.0 L1208.7,979.6 L1210.6,977.3 L1212.5,975.0 L1214.5,972.7 L1216.5,970.5 L1218.5,968.3 L1220.7,966.2 L1222.8,964.1 L1225.1,962.1 L1227.3,960.0 L1229.5,958.0 L1231.6,956.0 L1233.7,954.0 L1235.9,952.0 L1238.2,950.0 L1240.5,948.1 L1242.9,946.3 L1245.3,944.5 L1247.8,942.7 L1250.3,941.1 L1252.8,939.5 L1255.4,937.9 L1258.1,936.5 L1260.7,935.1 L1263.5,933.9 L1266.2,932.7 L1269.0,931.6 L1271.8,930.6 L1274.6,929.7 L1277.5,928.8 L1280.4,928.1 L1283.3,927.4 L1286.2,926.7 L1289.1,926.1 L1292.0,925.5 L1295.0,925.0 L1297.9,924.5 L1300.9,924.0 L1303.9,923.5 L1306.8,923.1 L1309.8,922.6 L1312.8,922.1 L1315.7,921.6 L1318.7,921.1 L1321.6,920.6 L1324.6,920.1 L1327.6,919.7 L1330.5,919.2 L1333.5,918.7 L1336.4,918.3 L1339.4,917.9 L1342.4,917.5 L1345.3,917.1 L1348.3,916.7 L1351.3,916.4 L1354.3,916.0 L1357.2,915.7 L1360.2,915.4 L1363.2,915.1 L1366.2,914.9 L1369.2,914.6 L1372.2,914.4 L1375.2,914.1 L1378.1,913.9 L1381.1,913.7 L1384.1,913.5 L1387.1,913.4 L1390.1,913.2 L1393.1,913.1 L1396.1,912.9 L1399.1,912.8 L1402.1,912.7 L1405.1,912.6 L1408.1,912.5 L1411.1,912.4 L1414.1,912.3 L1417.0,912.2 L1420.0,912.2 L1423.0,912.1 L1426.0,912.1 L1429.0,912.1 L1432.0,912.0 L1435.0,912.0 L1438.0,912.0 L1441.0,912.0 L1444.0,912.0 L1447.0,912.0 L1450.0,912.0 L1453.0,912.0" fill="none" stroke="#000" stroke-width="1.3" stroke-dasharray="3 3"/>
<path d="M875.0,912.0 L878.0,912.0 L881.0,912.0 L884.0,912.0 L887.0,912.0 L890.0,912.0 L893.0,912.0 L896.0,912.0 L899.0,912.0 L902.0,912.0 L905.0,912.0 L908.0,911.9 L911.0,911.9 L914.0,911.9 L917.0,911.9 L920.0,912.0 L923.0,912.0 L925.9,912.0 L928.9,912.1 L931.9,912.1 L934.9,912.1 L937.9,912.1 L940.9,912.1 L943.9,912.1 L946.9,912.1 L950.0,912.0 L953.0,911.8 L956.0,911.5 L958.9,911.0 L961.7,910.2 L964.4,909.2 L967.0,907.8 L969.5,906.1 L971.9,904.2 L974.1,902.2 L976.2,899.9 L978.2,897.6 L980.0,895.1 L981.7,892.7 L983.3,890.1 L984.7,887.5 L986.1,884.9 L987.4,882.2 L988.6,879.5 L989.8,876.7 L990.8,873.9 L991.9,871.1 L992.8,868.3 L993.8,865.5 L994.7,862.6 L995.6,859.8 L996.5,856.9 L997.3,854.0 L998.1,851.1 L998.9,848.2 L999.7,845.3 L1000.5,842.4 L1001.2,839.5 L1002.0,836.6 L1002.7,833.7 L1003.4,830.7 L1004.1,827.8 L1004.8,824.9 L1005.5,822.0 L1006.2,819.1 L1006.8,816.1 L1007.5,813.2 L1008.2,810.3 L1008.9,807.4 L1009.5,804.5 L1010.2,801.6 L1010.9,798.6 L1011.5,795.7 L1012.2,792.8 L1012.9,789.9 L1013.5,787.0 L1014.2,784.1 L1014.9,781.2 L1015.6,778.3 L1016.2,775.4 L1016.9,772.5 L1017.6,769.6 L1018.3,766.6 L1019.0,763.7 L1019.7,760.8 L1020.4,757.9 L1021.1,755.0 L1021.9,752.1 L1022.6,749.2 L1023.3,746.3 L1024.1,743.4 L1024.8,740.4 L1025.6,737.5 L1026.4,734.6 L1027.2,731.7 L1028.0,728.8 L1028.8,725.9 L1029.6,723.0 L1030.5,720.1 L1031.5,717.2 L1032.6,714.4 L1033.7,711.6 L1035.0,709.0 L1036.4,706.4 L1038.1,703.9 L1039.8,701.4 L1041.8,699.2 L1044.1,697.4 L1046.6,696.5 L1049.3,696.9 L1052.0,698.4 L1054.2,700.6 L1055.8,703.2 L1057.1,706.1 L1058.3,709.0 L1059.5,711.8 L1060.7,714.6 L1061.8,717.4 L1063.0,720.2 L1064.1,722.9 L1065.1,725.7 L1066.1,728.5 L1067.0,731.3 L1067.8,734.1 L1068.6,737.0 L1069.4,739.9 L1070.1,742.8 L1070.8,745.7 L1071.4,748.6 L1072.0,751.6 L1072.6,754.5 L1073.2,757.5 L1073.7,760.5 L1074.3,763.4 L1074.8,766.4 L1075.4,769.4 L1076.0,772.3 L1076.5,775.3 L1077.1,778.2 L1077.7,781.2 L1078.3,784.1 L1079.0,787.0 L1079.6,789.9 L1080.2,792.9 L1080.9,795.8 L1081.5,798.7 L1082.2,801.6 L1082.8,804.5 L1083.5,807.4 L1084.1,810.3 L1084.8,813.3 L1085.4,816.2 L1086.1,819.1 L1086.7,822.0 L1087.4,824.9 L1088.0,827.9 L1088.7,830.8 L1089.3,833.7 L1090.0,836.7 L1090.6,839.6 L1091.3,842.5 L1091.9,845.5 L1092.6,848.4 L1093.2,851.3 L1093.8,854.3 L1094.5,857.2 L1095.1,860.1 L1095.8,863.1 L1096.4,866.0 L1097.0,868.9 L1097.7,871.8 L1098.3,874.8 L1099.0,877.7 L1099.6,880.6 L1100.3,883.6 L1100.9,886.5 L1101.5,889.4 L1102.2,892.3 L1102.8,895.2 L1103.5,898.2 L1104.1,901.1 L1104.8,904.0 L1105.4,906.9 L1106.0,909.8 L1106.7,912.7 L1107.3,915.6 L1108.0,918.6 L1108.6,921.5 L1109.3,924.4 L1110.0,927.3 L1110.6,930.2 L1111.3,933.2 L1111.9,936.1 L1112.6,939.0 L1113.2,942.0 L1113.9,944.9 L1114.6,947.8 L1115.2,950.8 L1115.9,953.7 L1116.6,956.7 L1117.3,959.6 L1118.1,962.5 L1118.9,965.4 L1119.7,968.3 L1120.6,971.1 L1121.6,973.9 L1122.6,976.7 L1123.8,979.4 L1124.9,982.1 L1126.2,984.7 L1127.5,987.4 L1128.9,990.0 L1130.4,992.6 L1131.9,995.2 L1133.5,997.8 L1135.1,1000.5 L1136.7,1003.1 L1138.4,1005.9 L1140.1,1008.5 L1142.0,1011.0 L1144.0,1013.1 L1146.3,1014.8 L1148.8,1015.9 L1151.6,1016.4 L1154.5,1016.3 L1157.5,1015.7 L1160.5,1014.8 L1163.3,1013.6 L1166.0,1012.2 L1168.5,1010.6 L1170.9,1008.8 L1173.1,1006.9 L1175.3,1004.8 L1177.4,1002.6 L1179.5,1000.4 L1181.4,998.1 L1183.3,995.8 L1185.2,993.4 L1187.1,991.1 L1188.9,988.7 L1190.8,986.3 L1192.6,984.0 L1194.5,981.6 L1196.3,979.3 L1198.2,976.9 L1200.1,974.7 L1202.1,972.4 L1204.0,970.2 L1206.1,968.0 L1208.2,965.9 L1210.4,963.8 L1212.5,961.8 L1214.8,959.8 L1217.0,957.8 L1219.3,955.9 L1221.6,953.9 L1223.9,952.0 L1226.2,950.2 L1228.6,948.3 L1231.0,946.5 L1233.4,944.8 L1235.9,943.1 L1238.5,941.5 L1241.0,940.0 L1243.6,938.5 L1246.3,937.0 L1248.9,935.7 L1251.6,934.4 L1254.3,933.1 L1257.1,932.0 L1259.9,930.8 L1262.7,929.8 L1265.5,928.8 L1268.3,927.9 L1271.2,927.0 L1274.0,926.3 L1276.9,925.5 L1279.8,924.8 L1282.7,924.2 L1285.7,923.6 L1288.6,923.1 L1291.6,922.5 L1294.5,922.1 L1297.5,921.6 L1300.5,921.2 L1303.5,920.8 L1306.4,920.5 L1309.4,920.1 L1312.4,919.8 L1315.4,919.5 L1318.4,919.2 L1321.4,918.9 L1324.4,918.6 L1327.4,918.3 L1330.4,918.0 L1333.4,917.7 L1336.4,917.4 L1339.4,917.1 L1342.4,916.8 L1345.3,916.5 L1348.3,916.1 L1351.3,915.8 L1354.3,915.5 L1357.2,915.2 L1360.2,914.9 L1363.2,914.6 L1366.1,914.3 L1369.1,914.0 L1372.1,913.8 L1375.1,913.6 L1378.0,913.4 L1381.0,913.2 L1384.0,913.0 L1387.0,912.9 L1390.0,912.7 L1393.0,912.6 L1396.0,912.5 L1399.0,912.5 L1402.0,912.4 L1405.0,912.3 L1408.0,912.3 L1411.0,912.3 L1414.0,912.2 L1417.0,912.2 L1420.0,912.2 L1423.0,912.2 L1426.1,912.2 L1429.1,912.2 L1432.1,912.1 L1435.1,912.1 L1438.0,912.1 L1441.0,912.1 L1444.0,912.1 L1447.0,912.0 L1450.0,912.0 L1453.0,911.9" fill="none" stroke="#000" stroke-width="1.3" stroke-dasharray="1 2"/>
<path d="M875.0,912.0 L878.0,912.0 L881.0,912.0 L884.0,912.0 L887.0,912.0 L890.0,912.0 L893.0,912.0 L896.0,912.0 L899.0,912.0 L902.0,912.0 L905.0,912.0 L908.0,912.0 L911.0,912.0 L914.0,912.0 L917.0,912.0 L920.0,912.0 L923.0,912.0 L926.0,912.0 L928.9,912.0 L931.9,912.0 L934.9,912.0 L937.9,912.0 L940.9,912.1 L943.9,912.1 L946.9,912.1 L950.0,912.1 L953.0,912.0 L956.0,911.8 L958.9,911.5 L961.9,911.1 L964.7,910.3 L967.5,909.4 L970.3,908.1 L972.9,906.6 L975.4,904.9 L977.8,903.0 L980.0,900.9 L982.1,898.7 L984.0,896.5 L985.8,894.1 L987.5,891.7 L989.0,889.1 L990.5,886.5 L991.9,883.9 L993.2,881.2 L994.5,878.4 L995.7,875.7 L996.8,872.9 L997.9,870.1 L999.0,867.3 L1000.0,864.5 L1001.0,861.6 L1002.0,858.8 L1002.9,855.9 L1003.8,853.1 L1004.7,850.2 L1005.6,847.3 L1006.5,844.5 L1007.4,841.6 L1008.3,838.7 L1009.1,835.9 L1010.0,833.0 L1010.8,830.2 L1011.7,827.3 L1012.6,824.5 L1013.4,821.6 L1014.3,818.8 L1015.2,815.9 L1016.1,813.1 L1016.9,810.2 L1017.8,807.4 L1018.7,804.5 L1019.6,801.7 L1020.5,798.8 L1021.5,796.0 L1022.4,793.1 L1023.4,790.2 L1024.3,787.4 L1025.3,784.5 L1026.3,781.7 L1027.3,778.8 L1028.3,776.0 L1029.4,773.1 L1030.5,770.3 L1031.7,767.5 L1033.0,764.8 L1034.4,762.2 L1036.1,759.7 L1038.0,757.4 L1040.1,755.3 L1042.6,753.4 L1045.2,752.2 L1047.8,751.8 L1050.3,752.4 L1052.7,754.0 L1054.9,756.2 L1056.9,758.8 L1058.7,761.5 L1060.3,764.2 L1061.7,766.9 L1063.0,769.6 L1064.1,772.3 L1065.2,775.1 L1066.3,777.8 L1067.3,780.6 L1068.3,783.4 L1069.2,786.2 L1070.1,789.0 L1071.0,791.9 L1071.9,794.7 L1072.8,797.6 L1073.6,800.5 L1074.4,803.3 L1075.2,806.2 L1076.0,809.1 L1076.8,812.0 L1077.6,814.9 L1078.4,817.8 L1079.1,820.7 L1079.9,823.6 L1080.6,826.6 L1081.4,829.5 L1082.2,832.4 L1083.0,835.3 L1083.8,838.2 L1084.6,841.1 L1085.4,844.0 L1086.2,846.9 L1087.0,849.7 L1087.9,852.6 L1088.7,855.5 L1089.6,858.4 L1090.4,861.2 L1091.3,864.1 L1092.1,867.0 L1093.0,869.8 L1093.9,872.7 L1094.7,875.6 L1095.6,878.4 L1096.5,881.3 L1097.3,884.2 L1098.2,887.0 L1099.0,889.9 L1099.9,892.8 L1100.7,895.6 L1101.5,898.5 L1102.3,901.4 L1103.1,904.3 L1103.9,907.1 L1104.7,910.0 L1105.5,912.9 L1106.3,915.8 L1107.1,918.7 L1107.9,921.6 L1108.7,924.5 L1109.5,927.4 L1110.3,930.3 L1111.1,933.1 L1111.9,936.0 L1112.7,938.9 L1113.5,941.8 L1114.4,944.7 L1115.3,947.6 L1116.2,950.5 L1117.1,953.3 L1118.1,956.1 L1119.2,958.9 L1120.4,961.6 L1121.7,964.3 L1123.0,966.9 L1124.5,969.5 L1126.1,972.0 L1127.7,974.5 L1129.4,977.0 L1131.2,979.4 L1133.1,981.9 L1135.0,984.3 L1136.9,986.7 L1139.0,989.0 L1141.2,991.1 L1143.5,992.8 L1146.1,994.0 L1148.8,994.6 L1151.8,994.7 L1154.8,994.3 L1157.9,993.6 L1160.8,992.6 L1163.6,991.4 L1166.2,990.0 L1168.8,988.5 L1171.3,986.8 L1173.6,985.0 L1175.9,983.1 L1178.2,981.1 L1180.4,979.1 L1182.6,977.0 L1184.7,975.0 L1186.9,972.8 L1189.0,970.7 L1191.1,968.6 L1193.2,966.5 L1195.4,964.4 L1197.5,962.3 L1199.7,960.3 L1201.9,958.3 L1204.2,956.3 L1206.5,954.4 L1208.8,952.6 L1211.2,950.7 L1213.6,949.0 L1216.1,947.3 L1218.6,945.6 L1221.1,944.0 L1223.7,942.4 L1226.3,940.9 L1228.9,939.4 L1231.5,938.0 L1234.2,936.6 L1236.9,935.3 L1239.6,934.0 L1242.3,932.8 L1245.1,931.6 L1247.8,930.5 L1250.6,929.5 L1253.4,928.5 L1256.3,927.5 L1259.1,926.6 L1262.0,925.8 L1264.9,925.0 L1267.8,924.3 L1270.7,923.6 L1273.6,923.0 L1276.5,922.4 L1279.5,921.9 L1282.4,921.4 L1285.4,920.9 L1288.3,920.5 L1291.3,920.1 L1294.3,919.8 L1297.3,919.4 L1300.3,919.1 L1303.3,918.9 L1306.3,918.6 L1309.3,918.3 L1312.3,918.1 L1315.3,917.9 L1318.3,917.7 L1321.3,917.4 L1324.3,917.2 L1327.3,917.0 L1330.3,916.8 L1333.3,916.6 L1336.3,916.3 L1339.3,916.1 L1342.3,915.8 L1345.3,915.5 L1348.2,915.3 L1351.2,915.0 L1354.2,914.7 L1357.2,914.5 L1360.1,914.2 L1363.1,914.0 L1366.1,913.8 L1369.1,913.6 L1372.0,913.4 L1375.0,913.2 L1378.0,913.0 L1381.0,912.9 L1384.0,912.8 L1387.0,912.6 L1390.0,912.5 L1393.0,912.5 L1396.0,912.4 L1399.0,912.3 L1402.0,912.3 L1405.0,912.3 L1408.0,912.2 L1411.0,912.2 L1414.0,912.2 L1417.0,912.2 L1420.0,912.2 L1423.0,912.1 L1426.0,912.1 L1429.0,912.1 L1432.0,912.1 L1435.0,912.1 L1438.0,912.1 L1441.0,912.1 L1444.0,912.1 L1447.0,912.0 L1450.0,912.0 L1453.0,911.9" fill="none" stroke="#000" stroke-width="1.3" stroke-dasharray="4 3"/>
<path d="M875.0,912.1 L878.0,912.0 L881.0,911.9 L884.1,911.8 L887.1,911.8 L890.1,911.8 L893.1,911.8 L896.0,911.8 L899.0,911.8 L902.0,911.8 L905.0,911.9 L907.9,911.9 L910.9,912.0 L913.9,912.0 L916.8,912.1 L919.8,912.1 L922.8,912.2 L925.8,912.2 L928.7,912.2 L931.7,912.3 L934.7,912.3 L937.7,912.3 L940.7,912.2 L943.7,912.2 L946.7,912.2 L949.8,912.1 L952.8,912.0 L955.8,911.9 L958.9,911.6 L961.9,911.3 L964.8,910.9 L967.7,910.4 L970.6,909.7 L973.4,908.9 L976.1,907.8 L978.7,906.6 L981.2,905.1 L983.6,903.4 L985.9,901.4 L988.1,899.3 L990.2,897.0 L992.2,894.7 L994.0,892.2 L995.8,889.7 L997.4,887.1 L999.0,884.5 L1000.5,881.9 L1001.9,879.3 L1003.2,876.7 L1004.5,874.0 L1005.8,871.4 L1007.0,868.7 L1008.2,866.0 L1009.4,863.3 L1010.6,860.6 L1011.8,857.9 L1013.0,855.2 L1014.3,852.4 L1015.5,849.7 L1016.7,847.0 L1018.0,844.3 L1019.2,841.6 L1020.5,838.8 L1021.8,836.1 L1023.2,833.4 L1024.5,830.8 L1025.9,828.1 L1027.4,825.4 L1028.9,822.8 L1030.4,820.2 L1032.0,817.6 L1033.8,815.2 L1035.7,812.9 L1037.8,810.9 L1040.3,809.2 L1042.9,807.8 L1045.8,807.1 L1048.6,807.1 L1051.4,807.9 L1054.0,809.4 L1056.4,811.3 L1058.6,813.5 L1060.5,815.8 L1062.3,818.3 L1063.9,820.8 L1065.5,823.3 L1066.9,825.9 L1068.3,828.6 L1069.6,831.2 L1070.9,833.9 L1072.1,836.6 L1073.3,839.4 L1074.4,842.1 L1075.5,844.9 L1076.6,847.7 L1077.7,850.5 L1078.8,853.3 L1079.8,856.0 L1080.9,858.8 L1082.1,861.6 L1083.2,864.4 L1084.4,867.1 L1085.6,869.9 L1086.8,872.6 L1088.0,875.4 L1089.3,878.1 L1090.5,880.8 L1091.8,883.6 L1093.0,886.3 L1094.3,889.0 L1095.5,891.7 L1096.7,894.5 L1097.9,897.2 L1099.1,899.9 L1100.3,902.7 L1101.4,905.5 L1102.5,908.2 L1103.6,911.0 L1104.7,913.7 L1105.9,916.5 L1107.0,919.2 L1108.2,921.9 L1109.4,924.6 L1110.7,927.3 L1112.1,929.9 L1113.6,932.5 L1115.1,935.1 L1116.7,937.6 L1118.5,940.0 L1120.3,942.5 L1122.3,944.8 L1124.4,947.1 L1126.6,949.3 L1128.9,951.3 L1131.2,953.2 L1133.7,954.9 L1136.3,956.4 L1138.9,957.6 L1141.6,958.6 L1144.3,959.3 L1147.1,959.8 L1150.0,959.9 L1152.8,959.8 L1155.7,959.4 L1158.6,958.9 L1161.5,958.1 L1164.4,957.2 L1167.3,956.1 L1170.2,954.9 L1173.0,953.6 L1175.8,952.2 L1178.5,950.8 L1181.2,949.3 L1183.8,947.8 L1186.4,946.3 L1189.0,944.8 L1191.6,943.3 L1194.1,941.8 L1196.7,940.3 L1199.3,938.9 L1201.9,937.6 L1204.6,936.3 L1207.3,935.1 L1210.0,933.9 L1212.7,932.7 L1215.5,931.7 L1218.3,930.6 L1221.1,929.6 L1223.9,928.7 L1226.8,927.8 L1229.6,926.9 L1232.5,926.1 L1235.4,925.4 L1238.3,924.6 L1241.3,923.9 L1244.2,923.3 L1247.1,922.6 L1250.1,922.0 L1253.0,921.5 L1256.0,920.9 L1258.9,920.4 L1261.9,919.9 L1264.9,919.5 L1267.8,919.1 L1270.8,918.7 L1273.8,918.3 L1276.7,917.9 L1279.7,917.6 L1282.7,917.2 L1285.7,916.9 L1288.6,916.7 L1291.6,916.4 L1294.6,916.2 L1297.6,915.9 L1300.5,915.7 L1303.5,915.5 L1306.5,915.3 L1309.5,915.2 L1312.5,915.0 L1315.4,914.9 L1318.4,914.7 L1321.4,914.6 L1324.4,914.5 L1327.4,914.4 L1330.4,914.3 L1333.4,914.2 L1336.3,914.1 L1339.3,914.0 L1342.3,913.9 L1345.3,913.8 L1348.3,913.8 L1351.3,913.7 L1354.3,913.6 L1357.3,913.6 L1360.3,913.5 L1363.3,913.4 L1366.2,913.4 L1369.2,913.3 L1372.2,913.2 L1375.2,913.1 L1378.2,913.1 L1381.2,913.0 L1384.2,912.9 L1387.2,912.8 L1390.2,912.7 L1393.2,912.6 L1396.2,912.5 L1399.2,912.4 L1402.1,912.3 L1405.1,912.2 L1408.1,912.2 L1411.1,912.1 L1414.1,912.0 L1417.1,912.0 L1420.1,911.9 L1423.1,911.9 L1426.1,911.8 L1429.1,911.8 L1432.1,911.8 L1435.1,911.8 L1438.0,911.8 L1441.0,911.9 L1444.0,911.9 L1447.0,912.0 L1450.0,912.0 L1453.0,912.1" fill="none" stroke="#000" stroke-width="1.3" stroke-dasharray="2 2.5"/>
<path d="M874.9,912.1 L878.0,912.0 L881.1,911.9 L884.1,911.8 L887.1,911.8 L890.1,911.7 L893.1,911.7 L896.1,911.7 L899.1,911.8 L902.0,911.8 L905.0,911.8 L907.9,911.9 L910.9,911.9 L913.8,912.0 L916.8,912.1 L919.7,912.1 L922.7,912.2 L925.7,912.2 L928.6,912.3 L931.6,912.3 L934.6,912.3 L937.6,912.3 L940.6,912.3 L943.6,912.3 L946.6,912.3 L949.6,912.2 L952.7,912.1 L955.7,912.0 L958.8,911.8 L961.8,911.5 L964.8,911.1 L967.8,910.6 L970.7,910.0 L973.5,909.3 L976.3,908.4 L979.0,907.3 L981.6,906.1 L984.1,904.6 L986.4,902.9 L988.7,901.1 L990.9,899.1 L993.0,897.0 L995.0,894.7 L996.9,892.3 L998.7,889.9 L1000.5,887.3 L1002.2,884.7 L1003.8,882.1 L1005.4,879.4 L1006.9,876.7 L1008.3,874.0 L1009.7,871.4 L1011.0,868.7 L1012.3,866.1 L1013.6,863.5 L1014.9,860.9 L1016.2,858.3 L1017.5,855.7 L1018.9,853.1 L1020.3,850.6 L1021.7,848.0 L1023.2,845.5 L1024.8,842.9 L1026.4,840.4 L1028.2,837.9 L1030.1,835.3 L1032.1,832.9 L1034.2,830.5 L1036.4,828.4 L1038.7,826.6 L1041.1,825.2 L1043.6,824.2 L1046.3,823.8 L1049.0,824.0 L1051.8,824.8 L1054.5,826.1 L1057.0,827.8 L1059.3,829.8 L1061.4,832.0 L1063.4,834.5 L1065.2,836.9 L1066.8,839.5 L1068.4,842.1 L1069.9,844.7 L1071.3,847.3 L1072.7,849.9 L1074.0,852.6 L1075.3,855.3 L1076.5,858.0 L1077.8,860.7 L1079.0,863.4 L1080.2,866.1 L1081.4,868.8 L1082.7,871.4 L1084.0,874.1 L1085.4,876.8 L1086.8,879.4 L1088.2,882.1 L1089.6,884.7 L1091.0,887.3 L1092.5,890.0 L1093.9,892.6 L1095.3,895.3 L1096.7,897.9 L1098.1,900.6 L1099.4,903.2 L1100.8,905.9 L1102.1,908.6 L1103.4,911.3 L1104.7,914.0 L1106.1,916.6 L1107.5,919.3 L1108.9,921.8 L1110.4,924.4 L1112.0,926.9 L1113.6,929.3 L1115.4,931.7 L1117.2,934.0 L1119.2,936.3 L1121.4,938.4 L1123.6,940.4 L1126.0,942.3 L1128.5,944.1 L1131.0,945.7 L1133.7,947.1 L1136.4,948.4 L1139.2,949.4 L1142.0,950.2 L1144.9,950.7 L1147.7,951.0 L1150.6,951.0 L1153.5,950.8 L1156.5,950.4 L1159.4,949.9 L1162.3,949.2 L1165.2,948.3 L1168.1,947.4 L1171.0,946.3 L1173.8,945.2 L1176.6,944.0 L1179.4,942.7 L1182.2,941.5 L1184.9,940.2 L1187.6,938.9 L1190.3,937.7 L1193.0,936.4 L1195.7,935.2 L1198.4,934.0 L1201.2,932.9 L1203.9,931.8 L1206.7,930.7 L1209.5,929.7 L1212.3,928.8 L1215.1,927.9 L1218.0,927.0 L1220.9,926.2 L1223.7,925.5 L1226.6,924.7 L1229.5,924.0 L1232.4,923.4 L1235.4,922.7 L1238.3,922.1 L1241.2,921.6 L1244.2,921.0 L1247.1,920.5 L1250.1,920.1 L1253.1,919.6 L1256.0,919.2 L1259.0,918.8 L1262.0,918.4 L1264.9,918.0 L1267.9,917.7 L1270.9,917.3 L1273.9,917.0 L1276.8,916.8 L1279.8,916.5 L1282.8,916.2 L1285.8,916.0 L1288.7,915.8 L1291.7,915.5 L1294.7,915.3 L1297.7,915.2 L1300.7,915.0 L1303.6,914.8 L1306.6,914.7 L1309.6,914.5 L1312.6,914.4 L1315.6,914.3 L1318.6,914.2 L1321.5,914.1 L1324.5,914.0 L1327.5,913.9 L1330.5,913.8 L1333.5,913.8 L1336.5,913.7 L1339.4,913.6 L1342.4,913.6 L1345.4,913.5 L1348.4,913.4 L1351.4,913.4 L1354.4,913.3 L1357.4,913.3 L1360.4,913.2 L1363.3,913.2 L1366.3,913.1 L1369.3,913.0 L1372.3,913.0 L1375.3,912.9 L1378.3,912.8 L1381.3,912.8 L1384.3,912.7 L1387.3,912.6 L1390.2,912.6 L1393.2,912.5 L1396.2,912.4 L1399.2,912.3 L1402.2,912.3 L1405.2,912.2 L1408.2,912.1 L1411.2,912.1 L1414.2,912.0 L1417.1,912.0 L1420.1,911.9 L1423.1,911.9 L1426.1,911.9 L1429.1,911.9 L1432.1,911.8 L1435.1,911.8 L1438.1,911.9 L1441.0,911.9 L1444.0,911.9 L1447.0,912.0 L1450.0,912.0 L1453.0,912.1" fill="none" stroke="#000" stroke-width="1.3" stroke-dasharray="5 3"/>
</svg>
</body></html>
